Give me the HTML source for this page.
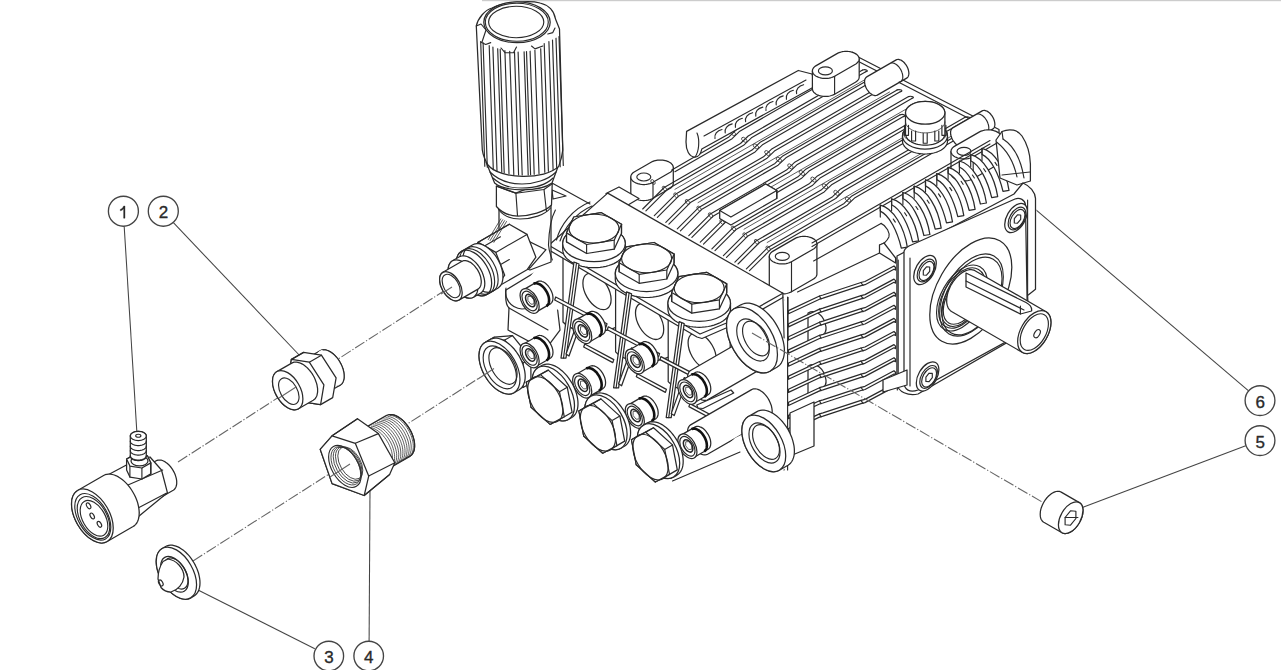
<!DOCTYPE html>
<html><head><meta charset="utf-8"><style>
html,body{margin:0;padding:0;background:#fff;width:1281px;height:670px;overflow:hidden}
svg{display:block}
.c{fill:#fff;stroke:#444;stroke-width:1.35}
.t{font-family:"Liberation Sans",sans-serif;font-size:17px;fill:#2a2a2a;text-anchor:middle;stroke:#2a2a2a;stroke-width:0.35}
.l{stroke:#444;stroke-width:1.05;fill:none}
.d{stroke:#666;stroke-width:1.1;fill:none;stroke-dasharray:11 2 1.2 2}
.s{stroke:#2a2a2a;stroke-width:1.25;fill:#fff;stroke-linejoin:round}
.n{stroke:#2a2a2a;stroke-width:1.15;fill:none;stroke-linejoin:round;stroke-linecap:round}
.h{stroke:#333;stroke-width:0.8;fill:none}
.k{fill:#222;stroke:none}
</style></head><body>
<svg width="1281" height="670" viewBox="0 0 1281 670">
<rect x="482" y="0" width="799" height="1.2" fill="#ccc"/>
<path class="d" d="M178 462 L447 289"/>
<path class="d" d="M193 561 L494 368.5"/>
<path class="l" d="M124.2 226.4 L136.8 431"/>
<path class="l" d="M173.4 222.7 L302 358"/>
<path class="l" d="M314.8 648.7 L198 590"/>
<path class="l" d="M369.1 641.3 L370 490"/>
<path class="l" d="M1245.7 445.7 L1081 508"/>
<path class="l" d="M1248.6 390.8 L1036 209.8"/>
<path class="s" d="M156.2 460.8 L157.1 460.4 L158 460.1 L159.1 460 L160.1 460 L161.2 460.2 L162.4 460.5 L163.5 461 L164.7 461.6 L165.9 462.4 L167.1 463.2 L168.2 464.2 L169.3 465.3 L170.4 466.5 L171.4 467.8 L172.3 469.2 L173.2 470.6 L174 472.1 L174.7 473.6 L175.3 475.1 L175.8 476.6 L176.2 478.1 L176.5 479.6 L176.7 481 L176.7 482.4 L176.7 483.8 L176.5 485 L176.2 486.2 L175.8 487.2 L175.3 488.2 L174.7 489 L174 489.7 L173.2 490.2 L158.5 498.7 L157.6 499.1 L156.7 499.4 L155.7 499.5 L154.6 499.5 L153.5 499.3 L152.3 499 L151.2 498.5 L150 497.9 L148.8 497.1 L147.7 496.3 L146.5 495.3 L145.4 494.2 L144.3 493 L143.3 491.7 L142.4 490.3 L141.5 488.9 L140.7 487.4 L140 485.9 L139.4 484.4 L138.9 482.9 L138.5 481.4 L138.2 479.9 L138 478.5 L138 477.1 L138 475.7 L138.2 474.5 L138.5 473.3 L138.9 472.3 L139.4 471.3 L140 470.5 L140.7 469.8 L141.5 469.3 Z"/><path class="s" d="M104 477 L126.9 464.8 L150 457 L161.5 470 L167.4 492.7 L137.6 517.2 L112 520 Z"/><path class="n" d="M126.8 485.5 L162.7 470"/><path class="n" d="M137.6 508.2 L166.2 493.3"/><path class="n" d="M126.8 485.5 L128 490"/><path class="n" d="M137.6 508.2 L139 513"/><path class="s" d="M141.9 479 L129.9 477.1 L126.6 470.1 L126.6 459.1 L135.5 454 L147.5 455.9 L150.8 462.9 L150.8 473.9 Z"/><path class="n" d="M150.8 462.9 L150.8 473.9"/><path class="n" d="M141.9 468 L141.9 479"/><path class="n" d="M129.9 466.1 L129.9 477.1"/><path class="s" d="M147.5 455.9 L150.8 462.9 L141.9 468 L129.9 466.1 L126.6 459.1 L135.5 454 Z"/><ellipse class="s" cx="139.5" cy="461" rx="8.5" ry="4.9" transform="rotate(-180 139.5 461)"/><path class="s" d="M146.3 456 L146.3 456.5 L146.1 456.9 L146 457.3 L145.7 457.8 L145.4 458.2 L145 458.6 L144.5 458.9 L144 459.3 L143.4 459.6 L142.7 459.8 L142.1 460.1 L141.4 460.3 L140.6 460.4 L139.9 460.5 L139.1 460.6 L138.3 460.6 L137.5 460.6 L136.7 460.5 L136 460.4 L135.2 460.3 L134.5 460.1 L133.9 459.8 L133.2 459.6 L132.6 459.3 L132.1 458.9 L131.6 458.6 L131.2 458.2 L130.9 457.8 L130.6 457.3 L130.5 456.9 L130.3 456.5 L130.3 456 L130.3 436 L130.3 435.5 L130.5 435.1 L130.6 434.7 L130.9 434.2 L131.2 433.8 L131.6 433.4 L132.1 433.1 L132.6 432.7 L133.2 432.4 L133.9 432.2 L134.5 431.9 L135.2 431.7 L136 431.6 L136.7 431.5 L137.5 431.4 L138.3 431.4 L139.1 431.4 L139.9 431.5 L140.6 431.6 L141.4 431.7 L142.1 431.9 L142.7 432.2 L143.4 432.4 L144 432.7 L144.5 433.1 L145 433.4 L145.4 433.8 L145.7 434.2 L146 434.7 L146.1 435.1 L146.3 435.5 L146.3 436 Z"/><ellipse class="s" cx="138.3" cy="436" rx="8" ry="4.6" transform="rotate(-180 138.3 436)"/><path class="n" d="M146.3 441 L146.3 441.5 L146.1 441.9 L146 442.3 L145.7 442.8 L145.4 443.2 L145 443.6 L144.5 443.9 L144 444.3 L143.4 444.6 L142.7 444.8 L142.1 445.1 L141.4 445.3 L140.6 445.4 L139.9 445.5 L139.1 445.6 L138.3 445.6 L137.5 445.6 L136.7 445.5 L136 445.4 L135.2 445.3 L134.5 445.1 L133.9 444.8 L133.2 444.6 L132.6 444.3 L132.1 443.9 L131.6 443.6 L131.2 443.2 L130.9 442.8 L130.6 442.3 L130.5 441.9 L130.3 441.5 L130.3 441"/><path class="n" d="M146.3 446 L146.3 446.5 L146.1 446.9 L146 447.3 L145.7 447.8 L145.4 448.2 L145 448.6 L144.5 448.9 L144 449.3 L143.4 449.6 L142.7 449.8 L142.1 450.1 L141.4 450.3 L140.6 450.4 L139.9 450.5 L139.1 450.6 L138.3 450.6 L137.5 450.6 L136.7 450.5 L136 450.4 L135.2 450.3 L134.5 450.1 L133.9 449.8 L133.2 449.6 L132.6 449.3 L132.1 448.9 L131.6 448.6 L131.2 448.2 L130.9 447.8 L130.6 447.3 L130.5 446.9 L130.3 446.5 L130.3 446"/><path class="n" d="M146.3 450.5 L146.3 451 L146.1 451.4 L146 451.8 L145.7 452.3 L145.4 452.7 L145 453.1 L144.5 453.4 L144 453.8 L143.4 454.1 L142.7 454.3 L142.1 454.6 L141.4 454.8 L140.6 454.9 L139.9 455 L139.1 455.1 L138.3 455.1 L137.5 455.1 L136.7 455 L136 454.9 L135.2 454.8 L134.5 454.6 L133.9 454.3 L133.2 454.1 L132.6 453.8 L132.1 453.4 L131.6 453.1 L131.2 452.7 L130.9 452.3 L130.6 451.8 L130.5 451.4 L130.3 451 L130.3 450.5"/><path class="n" d="M146.3 455.5 L146.3 456 L146.1 456.4 L146 456.8 L145.7 457.3 L145.4 457.7 L145 458.1 L144.5 458.4 L144 458.8 L143.4 459.1 L142.7 459.3 L142.1 459.6 L141.4 459.8 L140.6 459.9 L139.9 460 L139.1 460.1 L138.3 460.1 L137.5 460.1 L136.7 460 L136 459.9 L135.2 459.8 L134.5 459.6 L133.9 459.3 L133.2 459.1 L132.6 458.8 L132.1 458.4 L131.6 458.1 L131.2 457.7 L130.9 457.3 L130.6 456.8 L130.5 456.4 L130.3 456 L130.3 455.5"/><ellipse class="n" cx="138.3" cy="435.7" rx="2.6" ry="1.5" transform="rotate(-180 138.3 435.7)"/><path class="s" d="M103.6 475.5 L105.1 474.7 L106.8 474.3 L108.5 474.1 L110.4 474.1 L112.3 474.5 L114.3 475 L116.3 475.8 L118.4 476.9 L120.4 478.2 L122.5 479.7 L124.4 481.4 L126.4 483.4 L128.2 485.4 L130 487.7 L131.6 490 L133.1 492.5 L134.5 495 L135.7 497.6 L136.8 500.3 L137.7 502.9 L138.3 505.5 L138.8 508.1 L139.1 510.6 L139.2 513 L139.1 515.3 L138.8 517.5 L138.3 519.5 L137.7 521.3 L136.8 523 L135.7 524.4 L134.5 525.6 L133.1 526.5 L107.2 541.5 L105.6 542.3 L104 542.7 L102.2 542.9 L100.4 542.9 L98.5 542.5 L96.5 542 L94.4 541.2 L92.4 540.1 L90.4 538.8 L88.3 537.3 L86.3 535.6 L84.4 533.6 L82.6 531.6 L80.8 529.3 L79.2 527 L77.6 524.5 L76.3 522 L75.1 519.4 L74 516.7 L73.1 514.1 L72.4 511.5 L71.9 508.9 L71.6 506.4 L71.5 504 L71.6 501.7 L71.9 499.5 L72.4 497.5 L73.1 495.7 L74 494 L75.1 492.6 L76.3 491.4 L77.6 490.5 Z"/><ellipse class="s" cx="92.4" cy="516" rx="29.5" ry="17" transform="rotate(-120 92.4 516)"/><ellipse class="n" cx="92.8" cy="516.8" rx="25.5" ry="14.7" transform="rotate(-120 92.8 516.8)"/><ellipse class="n" cx="93.5" cy="517.6" rx="23" ry="13.3" transform="rotate(-120 93.5 517.6)"/><ellipse class="n" cx="94" cy="518.3" rx="19.5" ry="11.3" transform="rotate(-120 94 518.3)"/><ellipse class="n" cx="88.6" cy="505.8" rx="3.2" ry="1.8" transform="rotate(-120 88.6 505.8)"/><ellipse class="n" cx="92.2" cy="516" rx="3.2" ry="1.8" transform="rotate(-120 92.2 516)"/><ellipse class="n" cx="99.4" cy="524.3" rx="3.2" ry="1.8" transform="rotate(-120 99.4 524.3)"/><path class="s" d="M307.9 357.7 L306.9 358.3 L306.1 359.1 L305.4 360.1 L304.8 361.2 L304.3 362.4 L304 363.8 L303.8 365.3 L303.7 366.8 L303.8 368.5 L304 370.2 L304.3 371.9 L304.8 373.7 L305.4 375.5 L306.1 377.3 L306.9 379 L307.9 380.8 L308.9 382.4 L310 384 L311.2 385.6 L312.5 387 L313.8 388.3 L315.1 389.4 L316.5 390.5 L317.9 391.3 L319.3 392.1 L320.6 392.6 L322 393 L323.3 393.2 L324.5 393.3 L325.7 393.1 L326.8 392.8 L327.9 392.3 L340 385.3 L341 384.6 L341.8 383.8 L342.5 382.8 L343.1 381.6 L343.6 380.3 L343.9 378.9 L344.1 377.4 L344.1 375.7 L344 374 L343.8 372.3 L343.4 370.4 L342.9 368.6 L342.2 366.8 L341.4 364.9 L340.5 363.1 L339.5 361.4 L338.4 359.7 L337.2 358.1 L335.9 356.6 L334.6 355.2 L333.2 353.9 L331.8 352.8 L330.4 351.9 L328.9 351.1 L327.5 350.5 L326.1 350.1 L324.8 349.8 L323.5 349.7 L322.2 349.9 L321.1 350.2 L320 350.7 Z"/><ellipse class="s" style="stroke:none" cx="330" cy="368" rx="20" ry="11.5" transform="rotate(-120 330 368)"/><path class="n" d="M337.1 386.2 L338.2 386 L339.3 385.7 L340.3 385.1 L341.2 384.4 L342 383.6 L342.7 382.5 L343.2 381.4 L343.7 380.1 L344 378.7 L344.1 377.2 L344.1 375.6 L344 374 L343.8 372.2 L343.4 370.5 L342.9 368.7 L342.2 366.9 L341.5 365.1 L340.6 363.4 L339.7 361.7 L338.6 360 L337.5 358.4 L336.3 357 L335 355.6 L333.7 354.3 L332.3 353.2 L330.9 352.2 L329.5 351.4 L328.2 350.7 L326.8 350.2 L325.5 349.9 L324.2 349.8 L322.9 349.8"/><path class="s" d="M302.7 401.8 L288.1 379.2 L291.4 359.4 L303.5 352.4 L321.4 355.2 L336.1 377.8 L332.7 397.6 L320.6 404.6 Z"/><path class="n" d="M309.3 362.2 L321.4 355.2"/><path class="n" d="M291.4 359.4 L303.5 352.4"/><path class="n" d="M288.1 379.2 L300.2 372.2"/><path class="s" d="M323.9 384.8 L309.3 362.2 L291.4 359.4 L288.1 379.2 L302.7 401.8 L320.6 404.6 Z"/><path class="s" d="M291.7 363.1 L292.8 362.6 L294 362.2 L295.3 362.1 L296.6 362.1 L298 362.4 L299.5 362.8 L300.9 363.4 L302.4 364.1 L303.9 365.1 L305.4 366.2 L306.8 367.4 L308.2 368.8 L309.6 370.4 L310.9 372 L312.1 373.7 L313.2 375.5 L314.2 377.3 L315.1 379.2 L315.8 381.2 L316.5 383.1 L317 385 L317.3 386.9 L317.6 388.7 L317.6 390.5 L317.6 392.2 L317.3 393.7 L317 395.2 L316.5 396.5 L315.8 397.7 L315.1 398.8 L314.2 399.6 L313.2 400.3 L298.5 408.8 L297.3 409.3 L296.1 409.7 L294.9 409.8 L293.5 409.8 L292.1 409.5 L290.7 409.1 L289.2 408.5 L287.7 407.8 L286.2 406.8 L284.7 405.7 L283.3 404.5 L281.9 403.1 L280.5 401.5 L279.3 399.9 L278.1 398.2 L276.9 396.4 L275.9 394.6 L275.1 392.7 L274.3 390.7 L273.7 388.8 L273.2 386.9 L272.8 385 L272.6 383.2 L272.5 381.4 L272.6 379.7 L272.8 378.2 L273.2 376.7 L273.7 375.4 L274.3 374.2 L275.1 373.1 L275.9 372.3 L276.9 371.6 Z"/><ellipse class="s" cx="287.7" cy="390.2" rx="21.5" ry="12.4" transform="rotate(-120 287.7 390.2)"/><ellipse class="n" cx="288.8" cy="391.2" rx="14.5" ry="8.4" transform="rotate(-120 288.8 391.2)"/><path class="s" d="M165.6 546.5 L167.1 545.8 L168.7 545.4 L170.4 545.2 L172.2 545.2 L174 545.6 L175.9 546.1 L177.9 546.9 L179.9 547.9 L181.8 549.2 L183.8 550.6 L185.7 552.3 L187.6 554.2 L189.4 556.2 L191.1 558.3 L192.6 560.6 L194.1 563 L195.4 565.4 L196.6 567.9 L197.6 570.5 L198.5 573 L199.1 575.6 L199.6 578.1 L199.9 580.5 L200 582.8 L199.9 585.1 L199.6 587.2 L199.1 589.1 L198.5 590.9 L197.6 592.4 L196.6 593.8 L195.4 595 L194.1 595.9 L190.7 597.9 L189.2 598.6 L187.6 599 L185.9 599.2 L184.1 599.2 L182.2 598.8 L180.3 598.3 L178.4 597.5 L176.4 596.5 L174.4 595.2 L172.5 593.8 L170.6 592.1 L168.7 590.2 L166.9 588.2 L165.2 586.1 L163.6 583.8 L162.1 581.4 L160.8 579 L159.6 576.5 L158.6 573.9 L157.8 571.4 L157.1 568.8 L156.6 566.3 L156.3 563.9 L156.2 561.6 L156.3 559.3 L156.6 557.2 L157.1 555.3 L157.8 553.5 L158.6 552 L159.6 550.6 L160.8 549.4 L162.1 548.5 Z"/><ellipse class="s" cx="176.4" cy="573.2" rx="28.5" ry="16.5" transform="rotate(-120 176.4 573.2)"/><ellipse class="s" cx="174.5" cy="574.3" rx="19.5" ry="11.3" transform="rotate(-120 174.5 574.3)"/><ellipse class="n" cx="176" cy="573.5" rx="17" ry="9.8" transform="rotate(-120 176 573.5)"/><path class="s" d="M163 561.5 C160 566 158 573 158 579 L161 587.5 C163 590 167 592 171 592 C178 590 183 584 184 577 C184 568 176 560 168 559 Z"/><ellipse class="n" cx="160.8" cy="583" rx="3.3" ry="1.9" transform="rotate(-120 160.8 583)"/><path class="s" d="M362 429.6 L360.9 430.4 L359.9 431.4 L359.1 432.5 L358.4 433.8 L357.8 435.2 L357.5 436.8 L357.2 438.6 L357.1 440.4 L357.2 442.3 L357.5 444.3 L357.8 446.4 L358.4 448.5 L359.1 450.6 L359.9 452.7 L360.9 454.8 L362 456.8 L363.2 458.7 L364.5 460.6 L365.9 462.4 L367.4 464.1 L368.9 465.6 L370.5 466.9 L372.1 468.2 L373.8 469.2 L375.4 470 L377 470.7 L378.6 471.1 L380.1 471.4 L381.6 471.4 L383 471.3 L384.3 470.9 L385.5 470.4 L409.8 456.4 L410.9 455.6 L411.9 454.6 L412.7 453.4 L413.4 452 L414 450.5 L414.4 448.8 L414.6 447 L414.6 445.1 L414.5 443.1 L414.2 441 L413.7 438.9 L413.1 436.7 L412.3 434.5 L411.4 432.4 L410.3 430.3 L409.1 428.2 L407.8 426.2 L406.4 424.3 L404.9 422.6 L403.4 420.9 L401.8 419.5 L400.1 418.2 L398.4 417.1 L396.7 416.1 L395.1 415.4 L393.4 414.9 L391.8 414.6 L390.3 414.6 L388.9 414.7 L387.5 415.1 L386.2 415.6 Z"/><path class="n" d="M406.3 457.4 L407.7 457.2 L409 456.8 L410.1 456.1 L411.2 455.3 L412.1 454.3 L412.9 453.1 L413.6 451.7 L414.1 450.2 L414.4 448.6 L414.6 446.8 L414.6 445 L414.5 443 L414.2 441 L413.7 438.9 L413.1 436.8 L412.4 434.7 L411.5 432.6 L410.5 430.6 L409.4 428.6 L408.1 426.6 L406.8 424.8 L405.3 423 L403.9 421.4 L402.3 419.9 L400.7 418.6 L399.1 417.5 L397.5 416.5 L395.8 415.7 L394.2 415.1 L392.7 414.7 L391.1 414.6 L389.7 414.6"/><path class="h" d="M406.2 458 L407.5 457.6 L408.7 456.9 L409.8 456.1 L410.7 455.1 L411.6 453.9 L412.2 452.6 L412.7 451.1 L413.1 449.4 L413.3 447.7 L413.3 445.8 L413.2 443.8 L412.9 441.8 L412.4 439.7 L411.8 437.6 L411.1 435.5 L410.2 433.4 L409.2 431.3 L408 429.3 L406.8 427.3 L405.4 425.5 L404 423.7 L402.5 422.1 L400.9 420.6 L399.3 419.3 L397.7 418.2 L396 417.2 L394.4 416.4 L392.8 415.8 L391.2 415.5 L389.7 415.3"/><path class="h" d="M404.2 459.2 L405.5 458.8 L406.6 458.1 L407.7 457.3 L408.7 456.3 L409.5 455.1 L410.1 453.8 L410.6 452.3 L411 450.6 L411.2 448.9 L411.2 447 L411.1 445 L410.8 443 L410.4 440.9 L409.8 438.8 L409 436.7 L408.1 434.6 L407.1 432.5 L406 430.5 L404.7 428.5 L403.3 426.7 L401.9 424.9 L400.4 423.3 L398.8 421.8 L397.2 420.5 L395.6 419.4 L393.9 418.4 L392.3 417.6 L390.7 417 L389.1 416.7 L387.6 416.5"/><path class="h" d="M402.1 460.4 L403.4 460 L404.6 459.3 L405.6 458.5 L406.6 457.5 L407.4 456.3 L408.1 455 L408.6 453.5 L408.9 451.8 L409.1 450.1 L409.2 448.2 L409 446.2 L408.7 444.2 L408.3 442.1 L407.7 440 L406.9 437.9 L406 435.8 L405 433.7 L403.9 431.7 L402.6 429.7 L401.3 427.9 L399.8 426.1 L398.3 424.5 L396.8 423 L395.1 421.7 L393.5 420.6 L391.9 419.6 L390.2 418.8 L388.6 418.2 L387 417.9 L385.5 417.7"/><path class="h" d="M400 461.6 L401.3 461.2 L402.5 460.5 L403.6 459.7 L404.5 458.7 L405.3 457.5 L406 456.2 L406.5 454.7 L406.8 453 L407 451.3 L407.1 449.4 L406.9 447.4 L406.7 445.4 L406.2 443.3 L405.6 441.2 L404.9 439.1 L404 437 L402.9 434.9 L401.8 432.9 L400.5 430.9 L399.2 429.1 L397.8 427.3 L396.2 425.7 L394.7 424.2 L393.1 422.9 L391.4 421.8 L389.8 420.8 L388.2 420 L386.5 419.4 L385 419.1 L383.4 418.9"/><path class="h" d="M397.9 462.8 L399.2 462.4 L400.4 461.7 L401.5 460.9 L402.4 459.9 L403.2 458.7 L403.9 457.4 L404.4 455.9 L404.8 454.2 L405 452.5 L405 450.6 L404.9 448.6 L404.6 446.6 L404.1 444.5 L403.5 442.4 L402.8 440.3 L401.9 438.2 L400.9 436.1 L399.7 434.1 L398.5 432.1 L397.1 430.3 L395.7 428.5 L394.2 426.9 L392.6 425.4 L391 424.1 L389.4 423 L387.7 422 L386.1 421.2 L384.5 420.6 L382.9 420.3 L381.4 420.1"/><path class="h" d="M395.8 464 L397.1 463.6 L398.3 462.9 L399.4 462.1 L400.3 461.1 L401.2 459.9 L401.8 458.6 L402.3 457.1 L402.7 455.4 L402.9 453.7 L402.9 451.8 L402.8 449.8 L402.5 447.8 L402.1 445.7 L401.4 443.6 L400.7 441.5 L399.8 439.4 L398.8 437.3 L397.6 435.3 L396.4 433.3 L395 431.5 L393.6 429.7 L392.1 428.1 L390.5 426.6 L388.9 425.3 L387.3 424.2 L385.6 423.2 L384 422.4 L382.4 421.8 L380.8 421.5 L379.3 421.3"/><path class="h" d="M393.8 465.2 L395.1 464.8 L396.3 464.1 L397.3 463.3 L398.3 462.3 L399.1 461.1 L399.7 459.8 L400.3 458.3 L400.6 456.6 L400.8 454.9 L400.8 453 L400.7 451 L400.4 449 L400 446.9 L399.4 444.8 L398.6 442.7 L397.7 440.6 L396.7 438.5 L395.6 436.5 L394.3 434.5 L393 432.7 L391.5 430.9 L390 429.3 L388.4 427.8 L386.8 426.5 L385.2 425.4 L383.6 424.4 L381.9 423.6 L380.3 423 L378.7 422.7 L377.2 422.5"/><path class="h" d="M391.7 466.4 L393 466 L394.2 465.3 L395.2 464.5 L396.2 463.5 L397 462.3 L397.7 461 L398.2 459.5 L398.5 457.8 L398.7 456.1 L398.8 454.2 L398.6 452.2 L398.3 450.2 L397.9 448.1 L397.3 446 L396.5 443.9 L395.7 441.8 L394.6 439.7 L393.5 437.7 L392.2 435.7 L390.9 433.9 L389.4 432.1 L387.9 430.5 L386.4 429 L384.8 427.7 L383.1 426.6 L381.5 425.6 L379.8 424.8 L378.2 424.2 L376.7 423.9 L375.1 423.7"/><path class="h" d="M389.6 467.6 L390.9 467.2 L392.1 466.5 L393.2 465.7 L394.1 464.7 L394.9 463.5 L395.6 462.2 L396.1 460.7 L396.5 459 L396.6 457.3 L396.7 455.4 L396.6 453.4 L396.3 451.4 L395.8 449.3 L395.2 447.2 L394.5 445.1 L393.6 443 L392.6 440.9 L391.4 438.9 L390.2 436.9 L388.8 435.1 L387.4 433.3 L385.8 431.7 L384.3 430.2 L382.7 428.9 L381 427.8 L379.4 426.8 L377.8 426 L376.1 425.4 L374.6 425.1 L373.1 424.9"/><path class="h" d="M387.5 468.8 L388.8 468.4 L390 467.7 L391.1 466.9 L392 465.9 L392.8 464.7 L393.5 463.4 L394 461.9 L394.4 460.2 L394.6 458.5 L394.6 456.6 L394.5 454.6 L394.2 452.6 L393.7 450.5 L393.1 448.4 L392.4 446.3 L391.5 444.2 L390.5 442.1 L389.3 440.1 L388.1 438.1 L386.7 436.3 L385.3 434.5 L383.8 432.9 L382.2 431.4 L380.6 430.1 L379 429 L377.3 428 L375.7 427.2 L374.1 426.6 L372.5 426.3 L371 426.1"/><path class="h" d="M385.4 470 L386.7 469.6 L387.9 468.9 L389 468.1 L390 467.1 L390.8 465.9 L391.4 464.6 L391.9 463.1 L392.3 461.4 L392.5 459.7 L392.5 457.8 L392.4 455.8 L392.1 453.8 L391.7 451.7 L391.1 449.6 L390.3 447.5 L389.4 445.4 L388.4 443.3 L387.2 441.3 L386 439.3 L384.6 437.5 L383.2 435.7 L381.7 434.1 L380.1 432.6 L378.5 431.3 L376.9 430.2 L375.2 429.2 L373.6 428.4 L372 427.8 L370.4 427.5 L368.9 427.3"/><path class="s" d="M320.2 449.3 L332.1 435.8 L357.5 418.7 L378.4 433.6 L394.8 462.7 L389.6 474.6 L364.2 495.5 L332.1 483.6 Z"/><path class="n" d="M332.1 435.8 L357.5 418.7"/><path class="n" d="M355.3 443.3 L378.4 433.6"/><path class="n" d="M368.7 476.1 L394.8 462.7"/><path class="n" d="M364.2 495.5 L389.6 474.6"/><path class="s" d="M320.2 449.3 L332.1 435.8 L355.3 443.3 L368.7 476.1 L364.2 495.5 L332.1 483.6 Z"/><ellipse class="n" cx="344.9" cy="466.4" rx="23" ry="13.3" transform="rotate(-120 344.9 466.4)"/><ellipse class="h" cx="345.8" cy="465.8" rx="21" ry="12.1" transform="rotate(-120 345.8 465.8)"/><ellipse class="h" cx="347.3" cy="464.9" rx="19.9" ry="11.5" transform="rotate(-120 347.3 464.9)"/><ellipse class="h" cx="348.8" cy="464" rx="18.8" ry="10.9" transform="rotate(-120 348.8 464)"/><ellipse class="h" cx="350.3" cy="463.1" rx="17.7" ry="10.2" transform="rotate(-120 350.3 463.1)"/><path class="s" d="M1043.8 522.3 L1043 521.7 L1042.3 521 L1041.7 520.2 L1041.1 519.2 L1040.7 518.1 L1040.4 516.9 L1040.3 515.7 L1040.2 514.3 L1040.3 512.9 L1040.4 511.4 L1040.7 509.9 L1041.1 508.3 L1041.7 506.8 L1042.3 505.2 L1043 503.7 L1043.8 502.2 L1044.7 500.7 L1045.7 499.3 L1046.7 498 L1047.8 496.8 L1048.9 495.7 L1050.1 494.7 L1051.3 493.8 L1052.5 493 L1053.7 492.4 L1054.9 491.9 L1056.1 491.5 L1057.2 491.4 L1058.3 491.3 L1059.3 491.4 L1060.3 491.7 L1061.2 492.1 L1079.4 502.6 L1080.2 503.2 L1081 504 L1081.6 504.8 L1082.1 505.8 L1082.5 507 L1082.8 508.2 L1083 509.5 L1083 511 L1082.9 512.4 L1082.7 514 L1082.3 515.6 L1081.9 517.2 L1081.3 518.8 L1080.6 520.4 L1079.8 522 L1078.9 523.5 L1078 524.9 L1076.9 526.3 L1075.8 527.6 L1074.7 528.8 L1073.5 529.9 L1072.3 530.9 L1071 531.7 L1069.8 532.4 L1068.5 532.9 L1067.3 533.3 L1066.1 533.5 L1065 533.6 L1063.9 533.5 L1062.9 533.2 L1062 532.8 Z"/><ellipse class="s" cx="1070.7" cy="517.7" rx="17.4" ry="10" transform="rotate(120 1070.7 517.7)"/><path class="n" d="M1070.5 510.8 L1065.1 517.5 L1065.1 524.7 L1070.5 525.2 L1075.9 518.5 L1075.9 511.3 Z"/><path class="n" d="M1065.1 517.5 L1077.9 517.5"/><path class="s" style="stroke:none" d="M620 190 L631 160 L690 125 L835 46 L870 55 L982 118 L1035 150 L1040 385 L905 390 L790 425 L786 300 Z"/><path class="s" d="M852 52 L855.8 55.7 L999 129.5 L999 134 L858 61.3 L852 58 Z"/><path class="s" d="M630.8 177.1 L630.8 193.1 L631 194.2 L631.4 195.3 L632.1 196.3 L633.1 197.2 L634.2 198.1 L635.6 198.8 L637.2 199.5 L638.9 200 L640.7 200.3 L642.6 200.5 L644.5 200.5 L646.4 200.4 L648.2 200.1 L649.9 199.6 L651.6 199 L653 198.3 L669.4 188.8 L669.9 188.5 L670.3 188.3 L670.7 188 L671.1 187.7 L671.4 187.3 L671.7 187 L672 186.7 L672.3 186.3 L672.5 186 L672.7 185.6 L672.9 185.3 L673 184.9 L673.1 184.5 L673.2 184.2 L673.2 183.8 L673.3 183.4 L673.3 167.4 Z"/><path class="s" d="M653 182.3 L652 182.8 L651 183.2 L649.9 183.6 L648.8 183.9 L647.6 184.2 L646.3 184.4 L645.1 184.5 L643.8 184.5 L642.5 184.5 L641.3 184.4 L640 184.2 L638.8 183.9 L637.7 183.6 L636.6 183.2 L635.6 182.8 L634.6 182.3 L633.8 181.8 L633 181.2 L632.3 180.5 L631.8 179.9 L631.4 179.2 L631 178.5 L630.9 177.7 L630.8 177 L630.9 176.3 L631 175.5 L631.4 174.8 L631.8 174.1 L632.3 173.5 L633 172.8 L633.8 172.2 L634.6 171.7 L651.1 162.2 L652 161.7 L653 161.3 L654.1 160.9 L655.3 160.6 L656.5 160.3 L657.7 160.1 L659 160 L660.3 160 L661.5 160 L662.8 160.1 L664 160.3 L665.2 160.6 L666.4 160.9 L667.5 161.3 L668.5 161.7 L669.4 162.2 L670.3 162.7 L671.1 163.3 L671.7 164 L672.3 164.6 L672.7 165.3 L673 166 L673.2 166.8 L673.3 167.5 L673.2 168.2 L673 169 L672.7 169.7 L672.3 170.4 L671.7 171 L671.1 171.7 L670.3 172.3 L669.4 172.8 Z"/><path class="n" d="M653 182.3 L653 198.3"/><ellipse class="n" cx="643.8" cy="177" rx="7" ry="4" transform="rotate(-180 643.8 177)"/><path class="n" d="M851 63.4 L736.7 129.4 L728.9 136.9 L671.8 169.9"/><path class="n" d="M854.2 65.2 L739.8 131.2 L732.1 138.7 L674.9 171.7"/><ellipse class="h" cx="732.8" cy="133.1" rx="1.8" ry="3.2" transform="rotate(-50 732.8 133.1)"/><ellipse class="h" cx="653" cy="182" rx="1.6" ry="2.8" transform="rotate(-40 653 182)"/><path class="n" d="M851 63.4 C854 62.4 858.2 64.2 854.2 65.2"/><path class="n" d="M862.6 70 L748.2 136 L740.5 143.5 L664.2 187.5 L642.7 209"/><path class="n" d="M865.7 71.8 L751.4 137.8 L743.6 145.3 L667.4 189.3 L645.9 210.8"/><ellipse class="h" cx="744.3" cy="139.8" rx="1.8" ry="3.2" transform="rotate(-50 744.3 139.8)"/><ellipse class="h" cx="664.5" cy="188.6" rx="1.6" ry="2.8" transform="rotate(-40 664.5 188.6)"/><path class="n" d="M862.6 70 C865.6 69 869.7 70.8 865.7 71.8"/><path class="h" d="M866.9 78.5 L674.6 189.5"/><path class="n" d="M874.1 76.6 L759.8 142.6 L752 150.1 L675.8 194.1 L654.3 215.6"/><path class="n" d="M877.2 78.4 L762.9 144.4 L755.1 151.9 L678.9 195.9 L657.4 217.4"/><ellipse class="h" cx="755.9" cy="146.4" rx="1.8" ry="3.2" transform="rotate(-50 755.9 146.4)"/><ellipse class="h" cx="676" cy="195.3" rx="1.6" ry="2.8" transform="rotate(-40 676 195.3)"/><path class="n" d="M874.1 76.6 C877.1 75.6 881.2 77.4 877.2 78.4"/><path class="n" d="M885.6 83.3 L771.3 149.3 L763.5 156.8 L687.3 200.8 L665.8 222.3"/><path class="n" d="M888.7 85.1 L774.4 151.1 L766.6 158.6 L690.4 202.6 L668.9 224.1"/><ellipse class="h" cx="767.4" cy="153.1" rx="1.8" ry="3.2" transform="rotate(-50 767.4 153.1)"/><ellipse class="h" cx="687.5" cy="201.9" rx="1.6" ry="2.8" transform="rotate(-40 687.5 201.9)"/><path class="n" d="M885.6 83.3 C888.6 82.3 892.7 84.1 888.7 85.1"/><path class="h" d="M889.9 91.8 L697.7 202.8"/><path class="n" d="M897.1 89.9 L782.8 155.9 L775 163.4 L698.8 207.4 L677.3 228.9"/><path class="n" d="M900.2 91.8 L785.9 157.8 L778.1 165.2 L701.9 209.2 L680.4 230.8"/><ellipse class="h" cx="778.9" cy="159.7" rx="1.8" ry="3.2" transform="rotate(-50 778.9 159.7)"/><ellipse class="h" cx="699.1" cy="208.6" rx="1.6" ry="2.8" transform="rotate(-40 699.1 208.6)"/><path class="n" d="M897.1 89.9 C900.1 88.9 904.2 90.8 900.2 91.8"/><path class="n" d="M908.6 96.6 L794.3 162.6 L786.5 170.1 L710.3 214.1 L688.8 235.6"/><path class="n" d="M911.8 98.4 L797.4 164.4 L789.6 171.9 L713.4 215.9 L691.9 237.4"/><ellipse class="h" cx="790.4" cy="166.4" rx="1.8" ry="3.2" transform="rotate(-50 790.4 166.4)"/><ellipse class="h" cx="710.6" cy="215.2" rx="1.6" ry="2.8" transform="rotate(-40 710.6 215.2)"/><path class="n" d="M908.6 96.6 C911.6 95.6 915.8 97.4 911.8 98.4"/><path class="h" d="M913 105.1 L720.7 216.1"/><path class="n" d="M900.2 114.8 L805.8 169.2 L798 176.8 L721.8 220.8 L700.3 242.2"/><path class="n" d="M903.4 116.6 L809 171.1 L801.2 178.6 L725 222.6 L703.5 244.1"/><ellipse class="h" cx="801.9" cy="173" rx="1.8" ry="3.2" transform="rotate(-50 801.9 173)"/><ellipse class="h" cx="722.1" cy="221.9" rx="1.6" ry="2.8" transform="rotate(-40 722.1 221.9)"/><path class="n" d="M900.2 114.8 C903.2 113.8 907.4 115.6 903.4 116.6"/><path class="n" d="M911.8 121.4 L817.4 175.9 L809.6 183.4 L733.4 227.4 L711.9 248.9"/><path class="n" d="M914.9 123.2 L820.5 177.7 L812.7 185.2 L736.5 229.2 L715 250.7"/><ellipse class="h" cx="813.5" cy="179.6" rx="1.8" ry="3.2" transform="rotate(-50 813.5 179.6)"/><ellipse class="h" cx="733.6" cy="228.5" rx="1.6" ry="2.8" transform="rotate(-40 733.6 228.5)"/><path class="n" d="M911.8 121.4 C914.8 120.4 918.9 122.2 914.9 123.2"/><path class="h" d="M916.1 129.9 L743.7 229.4"/><path class="n" d="M923.3 128.1 L828.9 182.6 L821.1 190.1 L744.9 234.1 L723.4 255.6"/><path class="n" d="M926.4 129.9 L832 184.4 L824.2 191.9 L748 235.9 L726.5 257.4"/><ellipse class="h" cx="825" cy="186.3" rx="1.8" ry="3.2" transform="rotate(-50 825 186.3)"/><ellipse class="h" cx="745.1" cy="235.2" rx="1.6" ry="2.8" transform="rotate(-40 745.1 235.2)"/><path class="n" d="M923.3 128.1 C926.3 127.1 930.4 128.9 926.4 129.9"/><path class="n" d="M965.1 117.2 L840.4 189.2 L832.6 196.7 L756.4 240.7 L734.9 262.2"/><path class="n" d="M968.2 119 L843.5 191 L835.7 198.5 L759.5 242.5 L738 264"/><ellipse class="h" cx="836.5" cy="192.9" rx="1.8" ry="3.2" transform="rotate(-50 836.5 192.9)"/><ellipse class="h" cx="756.6" cy="241.8" rx="1.6" ry="2.8" transform="rotate(-40 756.6 241.8)"/><path class="n" d="M965.1 117.2 C968.1 116.2 972.2 118 968.2 119"/><path class="h" d="M969.4 125.7 L766.8 242.7"/><path class="n" d="M976.6 123.9 L851.9 195.9 L844.1 203.4 L767.9 247.4 L746.4 268.9"/><path class="n" d="M979.7 125.7 L855 197.7 L847.2 205.2 L771 249.2 L749.5 270.7"/><ellipse class="h" cx="848" cy="199.6" rx="1.8" ry="3.2" transform="rotate(-50 848 199.6)"/><ellipse class="h" cx="768.2" cy="248.5" rx="1.6" ry="2.8" transform="rotate(-40 768.2 248.5)"/><path class="n" d="M976.6 123.9 C979.6 122.9 983.7 124.7 979.7 125.7"/><path class="s" d="M719.7 218.5 L719.7 210.5 L765.6 184 L776.8 190.5 L776.8 198.5 L730.9 225 Z"/><path class="s" d="M719.7 210.5 L765.6 184 L776.8 190.5 L730.9 217 Z"/><path class="n" d="M776.8 190.5 L776.8 198.5"/><path class="s" d="M686.6 131.4 L798.3 70.5 L812 74 L816 85.7 L701.8 149 C701 153 699 157 695 157 C689 157 686 150 686 142 Z"/><path class="n" d="M695 157 C699 152 700 140 697 133"/><path class="n" d="M704 136 L806 80"/><path class="n" d="M715 138.5 c-1 -4 2 -8 7 -9"/><path class="n" d="M725.2 132.9 c-1 -4 2 -8 7 -9"/><path class="n" d="M735.4 127.3 c-1 -4 2 -8 7 -9"/><path class="n" d="M745.6 121.7 c-1 -4 2 -8 7 -9"/><path class="n" d="M755.8 116.1 c-1 -4 2 -8 7 -9"/><path class="n" d="M766 110.5 c-1 -4 2 -8 7 -9"/><path class="n" d="M776.2 104.9 c-1 -4 2 -8 7 -9"/><path class="n" d="M786.4 99.3 c-1 -4 2 -8 7 -9"/><path class="n" d="M796.6 93.7 c-1 -4 2 -8 7 -9"/><path class="s" d="M896.2 59.9 L896.7 59.7 L897.3 59.5 L897.9 59.4 L898.6 59.4 L899.3 59.6 L900 59.8 L900.7 60 L901.4 60.4 L902.2 60.9 L902.9 61.4 L903.6 62 L904.3 62.7 L904.9 63.5 L905.6 64.3 L906.2 65.1 L906.7 66 L907.2 66.9 L907.6 67.8 L908 68.7 L908.3 69.7 L908.5 70.6 L908.7 71.5 L908.8 72.4 L908.9 73.3 L908.8 74.1 L908.7 74.9 L908.5 75.6 L908.3 76.2 L908 76.8 L907.6 77.3 L907.2 77.8 L906.7 78.1 L877.3 95.1 L876.7 95.3 L876.1 95.5 L875.5 95.6 L874.8 95.6 L874.2 95.4 L873.4 95.2 L872.7 95 L872 94.6 L871.3 94.1 L870.6 93.6 L869.8 93 L869.2 92.3 L868.5 91.5 L867.9 90.7 L867.3 89.9 L866.7 89 L866.3 88.1 L865.8 87.2 L865.5 86.3 L865.1 85.3 L864.9 84.4 L864.7 83.5 L864.6 82.6 L864.6 81.7 L864.6 80.9 L864.7 80.1 L864.9 79.4 L865.1 78.8 L865.5 78.2 L865.8 77.7 L866.3 77.2 L866.7 76.9 Z"/><path class="n" d="M899.1 82.1 L899.7 82 L900.3 81.8 L900.8 81.5 L901.3 81.1 L901.7 80.7 L902 80.1 L902.3 79.5 L902.6 78.9 L902.7 78.1 L902.8 77.3 L902.8 76.5 L902.7 75.6 L902.6 74.7 L902.4 73.8 L902.1 72.9 L901.8 71.9 L901.4 71 L901 70.1 L900.5 69.2 L899.9 68.3 L899.3 67.5 L898.7 66.7 L898 66 L897.3 65.3 L896.6 64.7 L895.9 64.2 L895.1 63.8 L894.4 63.4 L893.7 63.2 L893 63 L892.3 62.9 L891.7 62.9"/><path class="s" d="M982.2 110.9 L982.7 110.7 L983.3 110.5 L983.9 110.4 L984.6 110.4 L985.3 110.6 L986 110.8 L986.7 111 L987.4 111.4 L988.2 111.9 L988.9 112.4 L989.6 113 L990.3 113.7 L990.9 114.5 L991.6 115.3 L992.2 116.1 L992.7 117 L993.2 117.9 L993.6 118.8 L994 119.7 L994.3 120.7 L994.5 121.6 L994.7 122.5 L994.8 123.4 L994.9 124.3 L994.8 125.1 L994.7 125.9 L994.5 126.6 L994.3 127.2 L994 127.8 L993.6 128.3 L993.2 128.8 L992.7 129.1 L963.3 146.1 L962.7 146.3 L962.1 146.5 L961.5 146.6 L960.8 146.6 L960.2 146.4 L959.4 146.2 L958.7 146 L958 145.6 L957.3 145.1 L956.6 144.6 L955.8 144 L955.2 143.3 L954.5 142.5 L953.9 141.7 L953.3 140.9 L952.7 140 L952.3 139.1 L951.8 138.2 L951.5 137.3 L951.1 136.3 L950.9 135.4 L950.7 134.5 L950.6 133.6 L950.6 132.7 L950.6 131.9 L950.7 131.1 L950.9 130.4 L951.1 129.8 L951.5 129.2 L951.8 128.7 L952.3 128.2 L952.7 127.9 Z"/><path class="n" d="M985.1 133.1 L985.7 133 L986.3 132.8 L986.8 132.5 L987.3 132.1 L987.7 131.7 L988 131.1 L988.3 130.5 L988.6 129.9 L988.7 129.1 L988.8 128.3 L988.8 127.5 L988.7 126.6 L988.6 125.7 L988.4 124.8 L988.1 123.9 L987.8 122.9 L987.4 122 L987 121.1 L986.5 120.2 L985.9 119.3 L985.3 118.5 L984.7 117.7 L984 117 L983.3 116.3 L982.6 115.7 L981.9 115.2 L981.1 114.8 L980.4 114.4 L979.7 114.2 L979 114 L978.3 113.9 L977.7 113.9"/><path class="s" d="M812.4 71 L812.4 89 L812.6 90.1 L813 91.2 L813.7 92.2 L814.7 93.1 L815.8 94 L817.2 94.7 L818.8 95.4 L820.5 95.9 L822.3 96.2 L824.2 96.4 L826.1 96.4 L828 96.3 L829.8 96 L831.5 95.5 L833.2 94.9 L834.6 94.2 L855.4 82.2 L855.8 81.9 L856.2 81.7 L856.6 81.4 L857 81.1 L857.4 80.7 L857.7 80.4 L858 80.1 L858.2 79.7 L858.5 79.4 L858.7 79 L858.8 78.7 L859 78.3 L859.1 77.9 L859.1 77.6 L859.2 77.2 L859.2 76.8 L859.2 58.8 Z"/><path class="s" d="M834.6 76.2 L833.6 76.7 L832.6 77.1 L831.5 77.5 L830.4 77.8 L829.2 78.1 L827.9 78.3 L826.7 78.4 L825.4 78.4 L824.1 78.4 L822.9 78.3 L821.6 78.1 L820.4 77.8 L819.3 77.5 L818.2 77.1 L817.2 76.7 L816.2 76.2 L815.4 75.7 L814.6 75.1 L813.9 74.4 L813.4 73.8 L813 73.1 L812.6 72.4 L812.5 71.6 L812.4 70.9 L812.5 70.2 L812.6 69.4 L813 68.7 L813.4 68 L813.9 67.4 L814.6 66.7 L815.4 66.1 L816.2 65.6 L837 53.6 L837.9 53.1 L839 52.7 L840.1 52.3 L841.2 52 L842.4 51.7 L843.6 51.5 L844.9 51.4 L846.2 51.4 L847.5 51.4 L848.7 51.5 L850 51.7 L851.2 52 L852.3 52.3 L853.4 52.7 L854.4 53.1 L855.4 53.6 L856.2 54.1 L857 54.7 L857.6 55.4 L858.2 56 L858.6 56.7 L858.9 57.4 L859.1 58.2 L859.2 58.9 L859.1 59.6 L858.9 60.4 L858.6 61.1 L858.2 61.8 L857.6 62.4 L857 63.1 L856.2 63.7 L855.4 64.2 Z"/><path class="n" d="M834.6 76.2 L834.6 94.2"/><ellipse class="n" cx="825.4" cy="70.9" rx="7" ry="4" transform="rotate(-180 825.4 70.9)"/><path class="s" d="M769.3 256.5 L769.3 286.5 L769.5 287.6 L769.9 288.7 L770.6 289.7 L771.6 290.6 L772.7 291.5 L774.1 292.2 L775.7 292.9 L777.4 293.4 L779.2 293.7 L781.1 293.9 L783 293.9 L784.9 293.8 L786.7 293.5 L788.4 293 L790.1 292.4 L791.5 291.7 L813.1 279.2 L813.6 278.9 L814 278.7 L814.4 278.4 L814.8 278.1 L815.1 277.7 L815.4 277.4 L815.7 277.1 L816 276.7 L816.2 276.4 L816.4 276 L816.6 275.7 L816.7 275.3 L816.8 274.9 L816.9 274.6 L816.9 274.2 L816.9 273.8 L816.9 243.8 Z"/><path class="s" d="M791.5 261.7 L790.5 262.2 L789.5 262.6 L788.4 263 L787.3 263.3 L786.1 263.6 L784.8 263.8 L783.6 263.9 L782.3 263.9 L781 263.9 L779.8 263.8 L778.5 263.6 L777.3 263.3 L776.2 263 L775.1 262.6 L774.1 262.2 L773.1 261.7 L772.3 261.2 L771.5 260.6 L770.8 259.9 L770.3 259.3 L769.9 258.6 L769.5 257.9 L769.4 257.1 L769.3 256.4 L769.4 255.7 L769.5 254.9 L769.9 254.2 L770.3 253.5 L770.8 252.9 L771.5 252.2 L772.3 251.6 L773.1 251.1 L794.8 238.6 L795.7 238.1 L796.7 237.7 L797.8 237.3 L799 237 L800.2 236.7 L801.4 236.5 L802.7 236.4 L804 236.4 L805.2 236.4 L806.5 236.5 L807.7 236.7 L808.9 237 L810.1 237.3 L811.2 237.7 L812.2 238.1 L813.1 238.6 L814 239.1 L814.8 239.7 L815.4 240.4 L816 241 L816.4 241.7 L816.7 242.4 L816.9 243.2 L817 243.9 L816.9 244.6 L816.7 245.4 L816.4 246.1 L816 246.8 L815.4 247.4 L814.8 248.1 L814 248.7 L813.1 249.2 Z"/><path class="n" d="M791.5 261.7 L791.5 291.7"/><ellipse class="n" cx="782.3" cy="256.4" rx="7" ry="4" transform="rotate(-180 782.3 256.4)"/><path class="s" d="M951 151.5 L951 173.5 L951.2 174.6 L951.6 175.7 L952.3 176.7 L953.3 177.6 L954.4 178.5 L955.8 179.2 L957.4 179.9 L959.1 180.4 L960.9 180.7 L962.8 180.9 L964.7 180.9 L966.6 180.8 L968.4 180.5 L970.1 180 L971.8 179.4 L973.2 178.7 L997.4 164.7 L997.9 164.4 L998.3 164.2 L998.7 163.9 L999.1 163.6 L999.4 163.2 L999.7 162.9 L1000 162.6 L1000.3 162.2 L1000.5 161.9 L1000.7 161.5 L1000.9 161.2 L1001 160.8 L1001.1 160.4 L1001.2 160.1 L1001.2 159.7 L1001.2 159.3 L1001.2 137.3 Z"/><path class="s" d="M973.2 156.7 L972.2 157.2 L971.2 157.6 L970.1 158 L969 158.3 L967.8 158.6 L966.5 158.8 L965.3 158.9 L964 158.9 L962.7 158.9 L961.5 158.8 L960.2 158.6 L959 158.3 L957.9 158 L956.8 157.6 L955.8 157.2 L954.8 156.7 L954 156.2 L953.2 155.6 L952.5 154.9 L952 154.3 L951.6 153.6 L951.2 152.9 L951.1 152.1 L951 151.4 L951.1 150.7 L951.2 149.9 L951.6 149.2 L952 148.5 L952.5 147.9 L953.2 147.2 L954 146.6 L954.8 146.1 L979.1 132.1 L980 131.6 L981 131.2 L982.1 130.8 L983.3 130.5 L984.5 130.2 L985.7 130 L987 129.9 L988.2 129.9 L989.5 129.9 L990.8 130 L992 130.2 L993.2 130.5 L994.4 130.8 L995.5 131.2 L996.5 131.6 L997.4 132.1 L998.3 132.6 L999.1 133.2 L999.7 133.9 L1000.3 134.5 L1000.7 135.2 L1001 135.9 L1001.2 136.7 L1001.2 137.4 L1001.2 138.1 L1001 138.9 L1000.7 139.6 L1000.3 140.3 L999.7 140.9 L999.1 141.6 L998.3 142.2 L997.4 142.7 Z"/><path class="n" d="M973.2 156.7 L973.2 178.7"/><ellipse class="n" cx="964" cy="151.4" rx="7" ry="4" transform="rotate(-180 964 151.4)"/><path class="s" d="M947.5 141 L947.4 142.3 L947.1 143.5 L946.5 144.8 L945.8 146 L944.8 147.1 L943.7 148.2 L942.4 149.2 L940.9 150.2 L939.3 151 L937.5 151.8 L935.6 152.5 L933.6 153 L931.5 153.4 L929.4 153.7 L927.2 153.9 L925 154 L922.8 153.9 L920.6 153.7 L918.5 153.4 L916.4 153 L914.4 152.5 L912.5 151.8 L910.7 151 L909.1 150.2 L907.6 149.2 L906.3 148.2 L905.2 147.1 L904.2 146 L903.5 144.8 L902.9 143.5 L902.6 142.3 L902.5 141 L902.5 136 L902.6 134.7 L902.9 133.5 L903.5 132.2 L904.2 131 L905.2 129.9 L906.3 128.8 L907.6 127.8 L909.1 126.8 L910.7 126 L912.5 125.2 L914.4 124.5 L916.4 124 L918.5 123.6 L920.6 123.3 L922.8 123.1 L925 123 L927.2 123.1 L929.4 123.3 L931.5 123.6 L933.6 124 L935.6 124.5 L937.5 125.2 L939.3 126 L940.9 126.8 L942.4 127.8 L943.7 128.8 L944.8 129.9 L945.8 131 L946.5 132.2 L947.1 133.5 L947.4 134.7 L947.5 136 Z"/><ellipse class="s" cx="925" cy="136" rx="22.5" ry="13" transform="rotate(-180 925 136)"/><path class="h" d="M947 132 L946.9 133.2 L946.6 134.5 L946.1 135.7 L945.3 136.9 L944.4 138 L943.3 139.1 L942 140.1 L940.6 141 L939 141.8 L937.2 142.6 L935.4 143.2 L933.4 143.7 L931.4 144.2 L929.3 144.5 L927.2 144.6 L925 144.7 L922.8 144.6 L920.7 144.5 L918.6 144.2 L916.6 143.7 L914.6 143.2 L912.8 142.6 L911 141.8 L909.4 141 L908 140.1 L906.7 139.1 L905.6 138 L904.7 136.9 L903.9 135.7 L903.4 134.5 L903.1 133.2 L903 132"/><path class="s" d="M944.9 133.8 L944.8 134.9 L944.5 136 L944.1 137.1 L943.4 138.2 L942.6 139.2 L941.6 140.1 L940.4 141 L939.1 141.8 L937.7 142.6 L936.1 143.3 L934.5 143.8 L932.7 144.3 L930.9 144.7 L929 145 L927.1 145.1 L925.2 145.2 L923.3 145.1 L921.4 145 L919.5 144.7 L917.7 144.3 L915.9 143.8 L914.3 143.3 L912.7 142.6 L911.3 141.8 L910 141 L908.8 140.1 L907.8 139.2 L907 138.2 L906.3 137.1 L905.9 136 L905.6 134.9 L905.5 133.8 L905.5 112.8 L905.6 111.7 L905.9 110.6 L906.3 109.5 L907 108.4 L907.8 107.4 L908.8 106.5 L910 105.6 L911.3 104.8 L912.7 104 L914.3 103.3 L915.9 102.8 L917.7 102.3 L919.5 101.9 L921.4 101.6 L923.3 101.5 L925.2 101.4 L927.1 101.5 L929 101.6 L930.9 101.9 L932.7 102.3 L934.5 102.8 L936.1 103.3 L937.7 104 L939.1 104.8 L940.4 105.6 L941.6 106.5 L942.6 107.4 L943.4 108.4 L944.1 109.5 L944.5 110.6 L944.8 111.7 L944.9 112.8 Z"/><ellipse class="s" cx="925.2" cy="112.8" rx="19.7" ry="11.4" transform="rotate(-180 925.2 112.8)"/><path class="n" d="M941.9 125.3 L941.9 135.3 L945.9 135.3 L945.9 125.3"/><path class="n" d="M934.8 131 L934.8 141 L938.8 141 L938.8 131"/><path class="n" d="M923.2 133.2 L923.2 143.2 L927.2 143.2 L927.2 133.2"/><path class="n" d="M911.6 131 L911.6 141 L915.6 141 L915.6 131"/><path class="n" d="M904.5 125.3 L904.5 135.3 L908.5 135.3 L908.5 125.3"/><path class="h" d="M944.9 121.5 L944.8 122.6 L944.5 123.7 L944.1 124.8 L943.4 125.9 L942.6 126.9 L941.6 127.8 L940.4 128.7 L939.1 129.5 L937.7 130.3 L936.1 131 L934.5 131.5 L932.7 132 L930.9 132.4 L929 132.7 L927.1 132.8 L925.2 132.9 L923.3 132.8 L921.4 132.7 L919.5 132.4 L917.7 132 L915.9 131.5 L914.3 131 L912.7 130.3 L911.3 129.5 L910 128.7 L908.8 127.8 L907.8 126.9 L907 125.9 L906.3 124.8 L905.9 123.7 L905.6 122.6 L905.5 121.5"/><path class="s" style="stroke:none" d="M786 300 L900 240 L1020 190 L1036 200 L1040 385 L905 392 L790 428 Z"/><path class="n" d="M797.5 292 L879.5 253"/><path class="n" d="M813.6 261 L881 223.4"/><path class="n" d="M881 223.4 C887 226 890 233 888.9 237 C887 241 884 244 879.5 245"/><path class="s" d="M879.5 245 L884 243 L895.6 258 L895.6 263 L879.5 253 Z"/><path class="s" d="M808 313 C816 309 824 315 826 327 C827 335 820 339 808 341 Z"/><path class="s" d="M808 366 C816 362 824 368 826 380 C827 388 820 392 808 394 Z"/><path class="s" d="M788.5 310.6 L819.5 296 L823 295 L861 282.5 L865 281.5 L894 266 L895.5 267.5 L895.5 270 L894 269.2 L865 284.7 L861 285.7 L823 298.2 L819.5 299.2 L788.5 313.8 Z"/><path class="n" d="M819.5 296 L821 299"/><path class="n" d="M861 282.5 L863 285.5"/><path class="s" d="M788.5 323.7 L819.5 309.1 L823 308.1 L861 295.6 L865 294.6 L894 279.1 L895.5 280.6 L895.5 283.1 L894 282.3 L865 297.8 L861 298.8 L823 311.3 L819.5 312.3 L788.5 326.9 Z"/><path class="n" d="M819.5 309.1 L821 312.1"/><path class="n" d="M861 295.6 L863 298.6"/><path class="s" d="M788.5 336.8 L819.5 322.2 L823 321.2 L861 308.7 L865 307.7 L894 292.2 L895.5 293.7 L895.5 296.2 L894 295.4 L865 310.9 L861 311.9 L823 324.4 L819.5 325.4 L788.5 340 Z"/><path class="n" d="M819.5 322.2 L821 325.2"/><path class="n" d="M861 308.7 L863 311.7"/><path class="s" d="M788.5 349.9 L819.5 335.3 L823 334.3 L861 321.8 L865 320.8 L894 305.3 L895.5 306.8 L895.5 309.3 L894 308.5 L865 324 L861 325 L823 337.5 L819.5 338.5 L788.5 353.1 Z"/><path class="n" d="M819.5 335.3 L821 338.3"/><path class="n" d="M861 321.8 L863 324.8"/><path class="s" d="M788.5 363 L819.5 348.4 L823 347.4 L861 334.9 L865 333.9 L894 318.4 L895.5 319.9 L895.5 322.4 L894 321.6 L865 337.1 L861 338.1 L823 350.6 L819.5 351.6 L788.5 366.2 Z"/><path class="n" d="M819.5 348.4 L821 351.4"/><path class="n" d="M861 334.9 L863 337.9"/><path class="s" d="M788.5 376.1 L819.5 361.5 L823 360.5 L861 348 L865 347 L894 331.5 L895.5 333 L895.5 335.5 L894 334.7 L865 350.2 L861 351.2 L823 363.7 L819.5 364.7 L788.5 379.3 Z"/><path class="n" d="M819.5 361.5 L821 364.5"/><path class="n" d="M861 348 L863 351"/><path class="s" d="M788.5 389.2 L819.5 374.6 L823 373.6 L861 361.1 L865 360.1 L894 344.6 L895.5 346.1 L895.5 348.6 L894 347.8 L865 363.3 L861 364.3 L823 376.8 L819.5 377.8 L788.5 392.4 Z"/><path class="n" d="M819.5 374.6 L821 377.6"/><path class="n" d="M861 361.1 L863 364.1"/><path class="s" d="M788.5 402.3 L819.5 387.7 L823 386.7 L861 374.2 L865 373.2 L894 357.7 L895.5 359.2 L895.5 361.7 L894 360.9 L865 376.4 L861 377.4 L823 389.9 L819.5 390.9 L788.5 405.5 Z"/><path class="n" d="M819.5 387.7 L821 390.7"/><path class="n" d="M861 374.2 L863 377.2"/><path class="s" d="M788.5 415.4 L819.5 400.8 L823 399.8 L861 387.3 L865 386.3 L894 370.8 L895.5 372.3 L895.5 374.8 L894 374 L865 389.5 L861 390.5 L823 403 L819.5 404 L788.5 418.6 Z"/><path class="n" d="M819.5 400.8 L821 403.8"/><path class="n" d="M861 387.3 L863 390.3"/><path class="s" d="M788.5 428.5 L819.5 413.9 L823 412.9 L861 400.4 L865 399.4 L894 383.9 L895.5 385.4 L895.5 387.9 L894 387.1 L865 402.6 L861 403.6 L823 416.1 L819.5 417.1 L788.5 431.7 Z"/><path class="n" d="M819.5 413.9 L821 416.9"/><path class="n" d="M861 400.4 L863 403.4"/><path class="n" d="M787.6 297 L787.6 470"/><path class="n" d="M784 300 L784 470"/><path class="n" d="M897.3 258 L897.3 390"/><path class="n" d="M812 243 L990 140.5"/><path class="n" d="M812 246.5 L990 144"/><path class="s" d="M880.3 205.1 C893.3 208.1 904.3 227.1 907.3 247.1 L901.3 248.1 C897.3 231.1 889.3 215.1 880.3 211.1 Z"/><path class="n" d="M880.3 205.1 L880.3 217.1"/><path class="n" d="M893.3 219.1 L895.3 222.1"/><path class="s" d="M891.6 198.8 C904.6 201.8 915.6 220.8 918.6 240.8 L912.6 241.8 C908.6 224.8 900.6 208.8 891.6 204.8 Z"/><path class="n" d="M891.6 198.8 L891.6 210.8"/><path class="n" d="M904.6 212.8 L906.6 215.8"/><path class="s" d="M902.9 192.5 C915.9 195.5 926.9 214.5 929.9 234.5 L923.9 235.5 C919.9 218.5 911.9 202.5 902.9 198.5 Z"/><path class="n" d="M902.9 192.5 L902.9 204.5"/><path class="n" d="M915.9 206.5 L917.9 209.5"/><path class="s" d="M914.2 186.2 C927.2 189.2 938.2 208.2 941.2 228.2 L935.2 229.2 C931.2 212.2 923.2 196.2 914.2 192.2 Z"/><path class="n" d="M914.2 186.2 L914.2 198.2"/><path class="n" d="M927.2 200.2 L929.2 203.2"/><path class="s" d="M925.5 179.9 C938.5 182.9 949.5 201.9 952.5 221.9 L946.5 222.9 C942.5 205.9 934.5 189.9 925.5 185.9 Z"/><path class="n" d="M925.5 179.9 L925.5 191.9"/><path class="n" d="M938.5 193.9 L940.5 196.9"/><path class="s" d="M936.8 173.6 C949.8 176.6 960.8 195.6 963.8 215.6 L957.8 216.6 C953.8 199.6 945.8 183.6 936.8 179.6 Z"/><path class="n" d="M936.8 173.6 L936.8 185.6"/><path class="n" d="M949.8 187.6 L951.8 190.6"/><path class="s" d="M948.1 167.3 C961.1 170.3 972.1 189.3 975.1 209.3 L969.1 210.3 C965.1 193.3 957.1 177.3 948.1 173.3 Z"/><path class="n" d="M948.1 167.3 L948.1 179.3"/><path class="n" d="M961.1 181.3 L963.1 184.3"/><path class="s" d="M959.4 161 C972.4 164 983.4 183 986.4 203 L980.4 204 C976.4 187 968.4 171 959.4 167 Z"/><path class="n" d="M959.4 161 L959.4 173"/><path class="n" d="M972.4 175 L974.4 178"/><path class="s" d="M970.7 154.7 C983.7 157.7 994.7 176.7 997.7 196.7 L991.7 197.7 C987.7 180.7 979.7 164.7 970.7 160.7 Z"/><path class="n" d="M970.7 154.7 L970.7 166.7"/><path class="n" d="M983.7 168.7 L985.7 171.7"/><path class="s" d="M982 148.4 C995 151.4 1006 170.4 1009 190.4 L1003 191.4 C999 174.4 991 158.4 982 154.4 Z"/><path class="n" d="M982 148.4 L982 160.4"/><path class="n" d="M995 162.4 L997 165.4"/><path class="s" d="M996 140 L1002 131.5 C1010 128 1018 130 1022 136 C1026 142 1030 152 1030.4 164 L1030.4 181 L1017 185 L1000 178 Z"/><path class="n" d="M996.8 142.2 C1007 150 1014 163 1017 177"/><path class="n" d="M1003 139 C1014 146 1021 160 1024 178"/><path class="n" d="M1002 131.5 L1003 139"/><path class="n" d="M1002 175 L1030 172"/><path class="s" d="M897 256 L1014 194 L1023 183 C1030 186 1035 192 1035.5 198.4 L1035.5 289.3 L1027.6 295.5 L1029 330 L918 394 C908 396 898 392 897 384 Z"/><path class="s" d="M904 252 C904 249 906 248 909 246 L1015 199 C1020 197 1025 200 1025.5 205 L1027.6 330 L918 390 C910 393 904 390 904 382 Z"/><path class="n" d="M1027.6 200 L1027.6 295"/><path class="n" d="M898.2 260 L898.2 383"/><path class="n" d="M910 258 L910 386"/><ellipse class="s" cx="1016" cy="218" rx="16" ry="9.2" transform="rotate(120 1016 218)"/><ellipse class="n" cx="1017" cy="218.5" rx="12.5" ry="7.2" transform="rotate(120 1017 218.5)"/><ellipse class="n" cx="1017.5" cy="219" rx="10.5" ry="6.1" transform="rotate(120 1017.5 219)"/><path class="n" d="M1020.7 215 L1017.5 214.8 L1014.3 218.7 L1014.3 223 L1017.5 223.2 L1020.7 219.3 Z"/><ellipse class="s" cx="925" cy="270" rx="16" ry="9.2" transform="rotate(120 925 270)"/><ellipse class="n" cx="926" cy="270.5" rx="12.5" ry="7.2" transform="rotate(120 926 270.5)"/><ellipse class="n" cx="926.5" cy="271" rx="10.5" ry="6.1" transform="rotate(120 926.5 271)"/><path class="n" d="M929.7 267 L926.5 266.8 L923.3 270.7 L923.3 275 L926.5 275.2 L929.7 271.3 Z"/><ellipse class="s" cx="927.6" cy="376.4" rx="16" ry="9.2" transform="rotate(120 927.6 376.4)"/><ellipse class="n" cx="928.6" cy="376.9" rx="12.5" ry="7.2" transform="rotate(120 928.6 376.9)"/><ellipse class="n" cx="929.1" cy="377.4" rx="10.5" ry="6.1" transform="rotate(120 929.1 377.4)"/><path class="n" d="M932.3 373.4 L929.1 373.2 L925.9 377.1 L925.9 381.4 L929.1 381.6 L932.3 377.7 Z"/><ellipse class="s" cx="970.8" cy="291" rx="58" ry="33.5" transform="rotate(120 970.8 291)"/><ellipse class="n" cx="971.5" cy="295" rx="45" ry="26" transform="rotate(120 971.5 295)"/><ellipse class="n" cx="972" cy="296" rx="42.5" ry="24.5" transform="rotate(120 972 296)"/><ellipse class="n" cx="962" cy="298" rx="36" ry="20.8" transform="rotate(120 962 298)"/><ellipse class="n" cx="962" cy="298" rx="33" ry="19.1" transform="rotate(120 962 298)"/><ellipse class="n" cx="962" cy="300" rx="29" ry="16.7" transform="rotate(120 962 300)"/><ellipse class="n" cx="962" cy="300" rx="26.5" ry="15.3" transform="rotate(120 962 300)"/><path class="s" d="M951.5 311.5 L950.4 310.7 L949.5 309.7 L948.6 308.6 L947.9 307.3 L947.4 305.9 L947 304.3 L946.7 302.5 L946.7 300.7 L946.7 298.8 L947 296.8 L947.4 294.7 L947.9 292.6 L948.6 290.5 L949.5 288.4 L950.4 286.3 L951.5 284.3 L952.7 282.4 L954.1 280.5 L955.5 278.7 L956.9 277 L958.5 275.5 L960 274.2 L961.7 272.9 L963.3 271.9 L964.9 271.1 L966.5 270.4 L968.1 270 L969.6 269.7 L971.1 269.7 L972.5 269.8 L973.8 270.2 L975 270.7 L1046.1 311.7 L1047.2 312.5 L1048.2 313.5 L1049 314.7 L1049.7 316.1 L1050.3 317.6 L1050.7 319.3 L1050.9 321.1 L1050.9 323 L1050.8 325 L1050.5 327.1 L1050 329.2 L1049.4 331.4 L1048.6 333.6 L1047.7 335.7 L1046.6 337.8 L1045.4 339.9 L1044.1 341.9 L1042.7 343.8 L1041.2 345.5 L1039.7 347.2 L1038.1 348.6 L1036.4 349.9 L1034.7 351 L1033 352 L1031.4 352.7 L1029.7 353.2 L1028.1 353.5 L1026.6 353.5 L1025.2 353.4 L1023.8 353 L1022.5 352.5 Z"/><ellipse class="s" cx="1034.3" cy="332.1" rx="23.5" ry="13.6" transform="rotate(120 1034.3 332.1)"/><ellipse class="n" cx="1037.1" cy="333.7" rx="4.5" ry="2.6" transform="rotate(120 1037.1 333.7)"/><ellipse class="n" cx="1034.3" cy="332.1" rx="20" ry="11.5" transform="rotate(120 1034.3 332.1)"/><path class="s" d="M966 273 L1026 302.5 C1031 305 1032 308 1031.6 311 L1020.4 314 L966 287 Z"/><path class="n" d="M966 281 L1024 310"/><path class="n" d="M1020.4 306 L1020.4 314"/><path class="s" d="M790 413 L814 402 L814 446 L790 456 Z"/><path class="s" d="M883 380 L907 370 L907 385 L883 392 Z"/><path class="s" style="stroke:none" d="M478 340 L500 326 L552 243 L607.7 193.1 L782.9 293.2 L786 305 L786 468 L770 478 L735 465 L684 484 L630 482 L575 452 L520 422 L480 386 Z"/><path class="s" style="stroke:none" d="M505 318 L515 305 L745 435 L750 470 L690 486 L640 480 L560 440 L500 405 L490 360 Z"/><path class="s" d="M506 290 C505 300 507 306 509 308 L508 330 L545 350 L560 330 L552 262 Z"/><path class="n" d="M506 288 C504 298 510 308 522 309 C530 309 536 306 540 300"/><path class="n" d="M509 308 L548 330"/><path class="s" style="stroke:none" d="M520 290 L552 248 L700 334 L760 365 L760 420 L540 300 Z"/><path class="s" d="M563 252 L563 322 C576 337 616 334 625 320 L625 252 Z"/><ellipse class="s" cx="597" cy="291.4" rx="20" ry="11.5" transform="rotate(-120 597 291.4)"/><path class="n" d="M589 273.4 L583 267.4 L587 265.4"/><path class="s" d="M615.6 281.8 L615.6 351.8 C628.6 366.8 668.6 363.8 677.6 349.8 L677.6 281.8 Z"/><ellipse class="s" cx="649.6" cy="321.2" rx="20" ry="11.5" transform="rotate(-120 649.6 321.2)"/><path class="n" d="M641.6 303.2 L635.6 297.2 L639.6 295.2"/><path class="s" d="M668.2 311.6 L668.2 381.6 C681.2 396.6 721.2 393.6 730.2 379.6 L730.2 311.6 Z"/><ellipse class="s" cx="702.2" cy="351" rx="20" ry="11.5" transform="rotate(-120 702.2 351)"/><path class="n" d="M694.2 333 L688.2 327 L692.2 325"/><path class="s" d="M606 193.5 L619 187 L639 198.5 L628 205 Z"/><path class="s" d="M548.8 245.2 L549 250 L697 337 L702 338.5 L741 321.5 L782.9 297.5 L782.9 293.2 Z"/><path class="s" d="M548.8 245.2 L607.7 193.1 L782.9 293.2 L741 317 L700 334 Z"/><path class="n" d="M782.9 297 L784.1 338"/><path class="n" d="M788 297.6 L788 340"/><path class="n" d="M556.5 240 C560 226 572 209 590 202"/><path class="n" d="M560 241 C564 229 575 213 592 206"/><path class="s" d="M625.3 249.6 L625.1 251.4 L624.7 253.1 L624 254.8 L622.9 256.5 L621.6 258.1 L620 259.6 L618.2 261.1 L616.1 262.4 L613.9 263.6 L611.4 264.6 L608.8 265.5 L606 266.3 L603.1 266.9 L600.1 267.3 L597.1 267.6 L594 267.7 L590.9 267.6 L587.9 267.3 L584.9 266.9 L582 266.3 L579.2 265.5 L576.6 264.6 L574.1 263.6 L571.9 262.4 L569.8 261.1 L568 259.6 L566.4 258.1 L565.1 256.5 L564 254.8 L563.3 253.1 L562.9 251.4 L562.7 249.6 L562.7 243.6 L562.9 241.8 L563.3 240.1 L564 238.4 L565.1 236.7 L566.4 235.1 L568 233.6 L569.8 232.1 L571.9 230.8 L574.1 229.6 L576.6 228.6 L579.2 227.7 L582 226.9 L584.9 226.3 L587.9 225.9 L590.9 225.6 L594 225.5 L597.1 225.6 L600.1 225.9 L603.1 226.3 L606 226.9 L608.8 227.7 L611.4 228.6 L613.9 229.6 L616.1 230.8 L618.2 232.1 L620 233.6 L621.6 235.1 L622.9 236.7 L624 238.4 L624.7 240.1 L625.1 241.8 L625.3 243.6 Z"/><ellipse class="s" cx="594" cy="243.6" rx="31.3" ry="18.1" transform="rotate(-180 594 243.6)"/><path class="s" d="M566.5 232.9 L573.8 217 L601.4 212.7 L621.5 224.3 L621.5 233.3 L614.2 249.2 L586.6 253.5 L566.5 241.9 Z"/><path class="n" d="M621.5 224.3 L621.5 233.3"/><path class="n" d="M614.2 240.2 L614.2 249.2"/><path class="n" d="M586.6 244.5 L586.6 253.5"/><path class="n" d="M566.5 232.9 L566.5 241.9"/><path class="s" d="M621.5 224.3 L614.2 240.2 L586.6 244.5 L566.5 232.9 L573.8 217 L601.4 212.7 Z"/><ellipse class="n" cx="594" cy="228.6" rx="25" ry="14.4" transform="rotate(-180 594 228.6)"/><path class="s" d="M677.9 279.4 L677.7 281.2 L677.3 282.9 L676.6 284.6 L675.5 286.3 L674.2 287.9 L672.6 289.4 L670.8 290.9 L668.7 292.2 L666.5 293.4 L664 294.4 L661.4 295.3 L658.6 296.1 L655.7 296.7 L652.7 297.1 L649.7 297.4 L646.6 297.5 L643.5 297.4 L640.5 297.1 L637.5 296.7 L634.6 296.1 L631.8 295.3 L629.2 294.4 L626.7 293.4 L624.5 292.2 L622.4 290.9 L620.6 289.4 L619 287.9 L617.7 286.3 L616.6 284.6 L615.9 282.9 L615.5 281.2 L615.3 279.4 L615.3 273.4 L615.5 271.6 L615.9 269.9 L616.6 268.2 L617.7 266.5 L619 264.9 L620.6 263.4 L622.4 261.9 L624.5 260.6 L626.7 259.4 L629.2 258.4 L631.8 257.5 L634.6 256.7 L637.5 256.1 L640.5 255.7 L643.5 255.4 L646.6 255.3 L649.7 255.4 L652.7 255.7 L655.7 256.1 L658.6 256.7 L661.4 257.5 L664 258.4 L666.5 259.4 L668.7 260.6 L670.8 261.9 L672.6 263.4 L674.2 264.9 L675.5 266.5 L676.6 268.2 L677.3 269.9 L677.7 271.6 L677.9 273.4 Z"/><ellipse class="s" cx="646.6" cy="273.4" rx="31.3" ry="18.1" transform="rotate(-180 646.6 273.4)"/><path class="s" d="M619.1 262.7 L626.4 246.8 L654 242.5 L674.1 254.1 L674.1 263.1 L666.8 279 L639.2 283.3 L619.1 271.7 Z"/><path class="n" d="M674.1 254.1 L674.1 263.1"/><path class="n" d="M666.8 270 L666.8 279"/><path class="n" d="M639.2 274.3 L639.2 283.3"/><path class="n" d="M619.1 262.7 L619.1 271.7"/><path class="s" d="M674.1 254.1 L666.8 270 L639.2 274.3 L619.1 262.7 L626.4 246.8 L654 242.5 Z"/><ellipse class="n" cx="646.6" cy="258.4" rx="25" ry="14.4" transform="rotate(-180 646.6 258.4)"/><path class="s" d="M730.5 309.2 L730.3 311 L729.9 312.7 L729.2 314.4 L728.1 316.1 L726.8 317.7 L725.2 319.2 L723.4 320.7 L721.3 322 L719.1 323.2 L716.6 324.2 L714 325.1 L711.2 325.9 L708.3 326.5 L705.3 326.9 L702.3 327.2 L699.2 327.3 L696.1 327.2 L693.1 326.9 L690.1 326.5 L687.2 325.9 L684.4 325.1 L681.8 324.2 L679.3 323.2 L677.1 322 L675 320.7 L673.2 319.2 L671.6 317.7 L670.3 316.1 L669.2 314.4 L668.5 312.7 L668.1 311 L667.9 309.2 L667.9 303.2 L668.1 301.4 L668.5 299.7 L669.2 298 L670.3 296.3 L671.6 294.7 L673.2 293.2 L675 291.7 L677.1 290.4 L679.3 289.2 L681.8 288.2 L684.4 287.3 L687.2 286.5 L690.1 285.9 L693.1 285.5 L696.1 285.2 L699.2 285.1 L702.3 285.2 L705.3 285.5 L708.3 285.9 L711.2 286.5 L714 287.3 L716.6 288.2 L719.1 289.2 L721.3 290.4 L723.4 291.7 L725.2 293.2 L726.8 294.7 L728.1 296.3 L729.2 298 L729.9 299.7 L730.3 301.4 L730.5 303.2 Z"/><ellipse class="s" cx="699.2" cy="303.2" rx="31.3" ry="18.1" transform="rotate(-180 699.2 303.2)"/><path class="s" d="M671.7 292.5 L679 276.6 L706.6 272.3 L726.7 283.9 L726.7 292.9 L719.4 308.8 L691.8 313.1 L671.7 301.5 Z"/><path class="n" d="M726.7 283.9 L726.7 292.9"/><path class="n" d="M719.4 299.8 L719.4 308.8"/><path class="n" d="M691.8 304.1 L691.8 313.1"/><path class="n" d="M671.7 292.5 L671.7 301.5"/><path class="s" d="M726.7 283.9 L719.4 299.8 L691.8 304.1 L671.7 292.5 L679 276.6 L706.6 272.3 Z"/><ellipse class="n" cx="699.2" cy="288.2" rx="25" ry="14.4" transform="rotate(-180 699.2 288.2)"/><path class="s" d="M574 262 L579 264 L566 358 L561 358 Z"/><path class="n" d="M576.5 263 L563.5 358"/><path class="s" d="M579 318 L582 320 L569 356 L566 354 Z"/><path class="s" d="M555.7 297 L607 323.8 L606 327 L554.7 300 Z"/><path class="s" d="M584.7 344 L613.8 359.6 L612.8 362.6 L583.7 347 Z"/><path class="s" d="M626.6 291.8 L631.6 293.8 L618.6 387.8 L613.6 387.8 Z"/><path class="n" d="M629.1 292.8 L616.1 387.8"/><path class="s" d="M631.6 347.8 L634.6 349.8 L621.6 385.8 L618.6 383.8 Z"/><path class="s" d="M608.3 326.8 L659.6 353.6 L658.6 356.8 L607.3 329.8 Z"/><path class="s" d="M637.3 373.8 L666.4 389.4 L665.4 392.4 L636.3 376.8 Z"/><path class="s" d="M679.2 321.6 L684.2 323.6 L671.2 417.6 L666.2 417.6 Z"/><path class="n" d="M681.7 322.6 L668.7 417.6"/><path class="s" d="M684.2 377.6 L687.2 379.6 L674.2 415.6 L671.2 413.6 Z"/><path class="s" d="M660.9 356.6 L712.2 383.4 L711.2 386.6 L659.9 359.6 Z"/><path class="s" d="M689.9 403.6 L719 419.2 L718 422.2 L688.9 406.6 Z"/><path class="s" d="M537.5 281.6 L538.1 281.3 L538.9 281.1 L539.6 281 L540.4 281.1 L541.3 281.2 L542.1 281.5 L543 281.8 L543.9 282.3 L544.8 282.8 L545.7 283.5 L546.5 284.2 L547.4 285.1 L548.2 286 L548.9 287 L549.6 288 L550.3 289 L550.9 290.2 L551.4 291.3 L551.9 292.4 L552.3 293.6 L552.6 294.7 L552.8 295.8 L552.9 296.9 L553 298 L552.9 299 L552.8 299.9 L552.6 300.8 L552.3 301.6 L551.9 302.3 L551.4 302.9 L550.9 303.4 L550.3 303.9 L537.3 311.4 L536.7 311.7 L535.9 311.9 L535.2 312 L534.4 311.9 L533.5 311.8 L532.7 311.5 L531.8 311.2 L530.9 310.7 L530 310.2 L529.1 309.5 L528.3 308.8 L527.4 307.9 L526.6 307 L525.9 306 L525.1 305 L524.5 304 L523.9 302.8 L523.4 301.7 L522.9 300.6 L522.5 299.4 L522.2 298.3 L522 297.2 L521.9 296.1 L521.8 295 L521.9 294 L522 293.1 L522.2 292.2 L522.5 291.4 L522.9 290.7 L523.4 290.1 L523.9 289.6 L524.5 289.1 Z"/><path d="M533.6 283.9 L534.2 283.6 L535 283.4 L535.7 283.3 L536.5 283.3 L537.4 283.5 L538.2 283.7 L539.1 284.1 L540 284.5 L540.9 285.1 L541.8 285.8 L542.6 286.5 L543.5 287.3 L544.3 288.2 L545 289.2 L545.7 290.2 L546.4 291.3 L547 292.4 L547.5 293.5 L548 294.7 L548.4 295.8 L548.7 297 L548.9 298.1 L549 299.2 L549.1 300.2 L549 301.2 L548.9 302.2 L548.7 303.1 L548.4 303.8 L548 304.6 L547.5 305.2 L547 305.7 L546.4 306.1" fill="none" stroke="#111" stroke-width="2.6"/><ellipse class="s" cx="529.6" cy="301" rx="13.5" ry="7.8" transform="rotate(-120 529.6 301)"/><ellipse class="n" cx="529.6" cy="301" rx="10.8" ry="6.2" transform="rotate(-120 529.6 301)"/><ellipse cx="530.3" cy="300.6" rx="6.8" ry="3.9" transform="rotate(-120 530.3 300.6)" fill="none" stroke="#222" stroke-width="1.5"/><path class="h" d="M530.9 296.3 L527.9 296.5 L527.9 300.5 L530.9 304.2 L533.9 304 L533.9 300 Z"/><path class="s" d="M590.1 311.9 L590.7 311.6 L591.5 311.4 L592.2 311.3 L593 311.4 L593.9 311.5 L594.7 311.8 L595.6 312.1 L596.5 312.6 L597.4 313.1 L598.3 313.8 L599.1 314.5 L600 315.4 L600.8 316.3 L601.5 317.3 L602.2 318.3 L602.9 319.3 L603.5 320.5 L604 321.6 L604.5 322.7 L604.9 323.9 L605.2 325 L605.4 326.1 L605.5 327.2 L605.6 328.3 L605.5 329.3 L605.4 330.2 L605.2 331.1 L604.9 331.9 L604.5 332.6 L604 333.2 L603.5 333.7 L602.9 334.2 L589.9 341.7 L589.3 342 L588.5 342.2 L587.8 342.3 L587 342.2 L586.1 342.1 L585.3 341.8 L584.4 341.5 L583.5 341 L582.6 340.5 L581.7 339.8 L580.9 339.1 L580 338.2 L579.2 337.3 L578.5 336.3 L577.7 335.3 L577.1 334.3 L576.5 333.1 L576 332 L575.5 330.9 L575.1 329.7 L574.8 328.6 L574.6 327.5 L574.5 326.4 L574.4 325.3 L574.5 324.3 L574.6 323.4 L574.8 322.5 L575.1 321.7 L575.5 321 L576 320.4 L576.5 319.9 L577.1 319.4 Z"/><path d="M586.2 314.2 L586.8 313.9 L587.6 313.7 L588.3 313.6 L589.1 313.6 L590 313.8 L590.8 314 L591.7 314.4 L592.6 314.8 L593.5 315.4 L594.4 316.1 L595.2 316.8 L596.1 317.6 L596.9 318.5 L597.6 319.5 L598.3 320.5 L599 321.6 L599.6 322.7 L600.1 323.8 L600.6 325 L601 326.1 L601.3 327.3 L601.5 328.4 L601.6 329.5 L601.7 330.5 L601.6 331.5 L601.5 332.5 L601.3 333.4 L601 334.1 L600.6 334.9 L600.1 335.5 L599.6 336 L599 336.4" fill="none" stroke="#111" stroke-width="2.6"/><ellipse class="s" cx="582.2" cy="331.3" rx="13.5" ry="7.8" transform="rotate(-120 582.2 331.3)"/><ellipse class="n" cx="582.2" cy="331.3" rx="10.8" ry="6.2" transform="rotate(-120 582.2 331.3)"/><ellipse cx="582.9" cy="330.9" rx="6.8" ry="3.9" transform="rotate(-120 582.9 330.9)" fill="none" stroke="#222" stroke-width="1.5"/><path class="h" d="M583.5 326.6 L580.5 326.8 L580.5 330.8 L583.5 334.5 L586.5 334.3 L586.5 330.3 Z"/><path class="s" d="M642.7 342.2 L643.3 341.9 L644.1 341.7 L644.8 341.6 L645.6 341.7 L646.5 341.8 L647.3 342.1 L648.2 342.4 L649.1 342.9 L650 343.4 L650.9 344.1 L651.7 344.8 L652.6 345.7 L653.4 346.6 L654.1 347.6 L654.8 348.6 L655.5 349.6 L656.1 350.8 L656.6 351.9 L657.1 353 L657.5 354.2 L657.8 355.3 L658 356.4 L658.1 357.5 L658.2 358.6 L658.1 359.6 L658 360.5 L657.8 361.4 L657.5 362.2 L657.1 362.9 L656.6 363.5 L656.1 364 L655.5 364.5 L642.5 372 L641.9 372.3 L641.1 372.5 L640.4 372.6 L639.6 372.5 L638.7 372.4 L637.9 372.1 L637 371.8 L636.1 371.3 L635.2 370.8 L634.3 370.1 L633.5 369.4 L632.6 368.5 L631.8 367.6 L631.1 366.6 L630.3 365.6 L629.7 364.6 L629.1 363.4 L628.6 362.3 L628.1 361.2 L627.7 360 L627.4 358.9 L627.2 357.8 L627.1 356.7 L627 355.6 L627.1 354.6 L627.2 353.7 L627.4 352.8 L627.7 352 L628.1 351.3 L628.6 350.7 L629.1 350.2 L629.7 349.7 Z"/><path d="M638.8 344.5 L639.4 344.2 L640.2 344 L640.9 343.9 L641.7 343.9 L642.6 344.1 L643.4 344.3 L644.3 344.7 L645.2 345.1 L646.1 345.7 L647 346.4 L647.8 347.1 L648.7 347.9 L649.5 348.8 L650.2 349.8 L650.9 350.8 L651.6 351.9 L652.2 353 L652.7 354.1 L653.2 355.3 L653.6 356.4 L653.9 357.6 L654.1 358.7 L654.2 359.8 L654.3 360.8 L654.2 361.8 L654.1 362.8 L653.9 363.7 L653.6 364.4 L653.2 365.2 L652.7 365.8 L652.2 366.3 L651.6 366.7" fill="none" stroke="#111" stroke-width="2.6"/><ellipse class="s" cx="634.8" cy="361.6" rx="13.5" ry="7.8" transform="rotate(-120 634.8 361.6)"/><ellipse class="n" cx="634.8" cy="361.6" rx="10.8" ry="6.2" transform="rotate(-120 634.8 361.6)"/><ellipse cx="635.5" cy="361.2" rx="6.8" ry="3.9" transform="rotate(-120 635.5 361.2)" fill="none" stroke="#222" stroke-width="1.5"/><path class="h" d="M636.1 356.9 L633.1 357.1 L633.1 361.1 L636.1 364.8 L639.1 364.6 L639.1 360.6 Z"/><path class="s" d="M755.1 333.2 L756 332.8 L756.9 332.5 L757.9 332.4 L759 332.4 L760.1 332.6 L761.3 332.9 L762.4 333.4 L763.6 334 L764.8 334.8 L766 335.6 L767.1 336.6 L768.2 337.7 L769.3 338.9 L770.3 340.2 L771.2 341.6 L772.1 343 L772.9 344.5 L773.6 346 L774.2 347.5 L774.7 349 L775.1 350.5 L775.4 352 L775.6 353.4 L775.6 354.8 L775.6 356.2 L775.4 357.4 L775.1 358.6 L774.7 359.6 L774.2 360.6 L773.6 361.4 L772.9 362.1 L772.1 362.6 L708 399.6 L707.2 400 L706.2 400.3 L705.2 400.4 L704.1 400.4 L703 400.2 L701.9 399.9 L700.7 399.4 L699.5 398.8 L698.3 398 L697.2 397.2 L696 396.2 L694.9 395.1 L693.9 393.9 L692.8 392.6 L691.9 391.2 L691 389.8 L690.2 388.3 L689.5 386.8 L688.9 385.3 L688.4 383.8 L688 382.3 L687.7 380.8 L687.6 379.4 L687.5 378 L687.6 376.6 L687.7 375.4 L688 374.2 L688.4 373.2 L688.9 372.2 L689.5 371.4 L690.2 370.7 L691 370.2 Z"/><path class="s" d="M695.3 372.5 L695.9 372.2 L696.7 372 L697.4 371.9 L698.2 372 L699.1 372.1 L699.9 372.4 L700.8 372.7 L701.7 373.2 L702.6 373.7 L703.5 374.4 L704.3 375.1 L705.2 376 L706 376.9 L706.7 377.9 L707.4 378.9 L708.1 379.9 L708.7 381.1 L709.2 382.2 L709.7 383.3 L710.1 384.5 L710.4 385.6 L710.6 386.7 L710.7 387.8 L710.8 388.9 L710.7 389.9 L710.6 390.8 L710.4 391.7 L710.1 392.5 L709.7 393.2 L709.2 393.8 L708.7 394.3 L708.1 394.8 L695.1 402.3 L694.5 402.6 L693.7 402.8 L693 402.9 L692.2 402.8 L691.3 402.7 L690.5 402.4 L689.6 402.1 L688.7 401.6 L687.8 401.1 L686.9 400.4 L686.1 399.7 L685.2 398.8 L684.4 397.9 L683.7 396.9 L682.9 395.9 L682.3 394.9 L681.7 393.7 L681.2 392.6 L680.7 391.5 L680.3 390.3 L680 389.2 L679.8 388.1 L679.7 387 L679.6 385.9 L679.7 384.9 L679.8 384 L680 383.1 L680.3 382.3 L680.7 381.6 L681.2 381 L681.7 380.5 L682.3 380 Z"/><path d="M691.4 374.8 L692 374.5 L692.8 374.3 L693.5 374.2 L694.3 374.2 L695.2 374.4 L696 374.6 L696.9 375 L697.8 375.4 L698.7 376 L699.6 376.7 L700.4 377.4 L701.3 378.2 L702.1 379.1 L702.8 380.1 L703.5 381.1 L704.2 382.2 L704.8 383.3 L705.3 384.4 L705.8 385.6 L706.2 386.7 L706.5 387.9 L706.7 389 L706.8 390.1 L706.9 391.1 L706.8 392.1 L706.7 393.1 L706.5 394 L706.2 394.7 L705.8 395.5 L705.3 396.1 L704.8 396.6 L704.2 397" fill="none" stroke="#111" stroke-width="2.6"/><ellipse class="s" cx="687.4" cy="391.9" rx="13.5" ry="7.8" transform="rotate(-120 687.4 391.9)"/><ellipse class="n" cx="687.4" cy="391.9" rx="10.8" ry="6.2" transform="rotate(-120 687.4 391.9)"/><ellipse cx="688.1" cy="391.5" rx="6.8" ry="3.9" transform="rotate(-120 688.1 391.5)" fill="none" stroke="#222" stroke-width="1.5"/><path class="h" d="M688.7 387.2 L685.7 387.4 L685.7 391.4 L688.7 395.1 L691.7 394.9 L691.7 390.9 Z"/><path class="s" d="M740.9 304.8 L742.8 304 L744.8 303.4 L746.9 303.1 L749.2 303.2 L751.5 303.6 L754 304.3 L756.4 305.3 L758.9 306.6 L761.4 308.2 L763.9 310 L766.3 312.1 L768.7 314.5 L770.9 317 L773.1 319.7 L775.1 322.6 L776.9 325.6 L778.6 328.7 L780.1 331.9 L781.4 335.1 L782.4 338.3 L783.3 341.5 L783.9 344.7 L784.3 347.7 L784.4 350.7 L784.3 353.5 L783.9 356.1 L783.3 358.6 L782.4 360.8 L781.4 362.8 L780.1 364.6 L778.6 366 L776.9 367.2 L770 371.2 L768.1 372 L766.1 372.6 L764 372.9 L761.7 372.8 L759.4 372.4 L757 371.7 L754.5 370.7 L752 369.4 L749.5 367.8 L747 366 L744.6 363.9 L742.3 361.5 L740 359 L737.9 356.3 L735.9 353.4 L734 350.4 L732.3 347.3 L730.8 344.1 L729.5 340.9 L728.5 337.7 L727.6 334.5 L727 331.3 L726.7 328.3 L726.5 325.3 L726.7 322.5 L727 319.9 L727.6 317.4 L728.5 315.2 L729.5 313.2 L730.8 311.4 L732.3 310 L734 308.8 Z"/><ellipse class="s" cx="752" cy="340" rx="36" ry="20.8" transform="rotate(-120 752 340)"/><ellipse class="n" cx="753" cy="340" rx="23" ry="13.3" transform="rotate(-120 753 340)"/><ellipse class="n" cx="756" cy="338.5" rx="19" ry="11" transform="rotate(-120 756 338.5)"/><path class="s" d="M530.9 358.5 L530.9 383 L523.1 387.5 L504.7 389.1 L486.3 366.2 L486.3 341.7 L494.1 337.2 L512.5 335.6 Z"/><path class="n" d="M523.1 363 L530.9 358.5"/><path class="n" d="M504.7 340.1 L512.5 335.6"/><path class="n" d="M486.3 341.7 L494.1 337.2"/><path class="n" d="M486.3 366.2 L494.1 361.7"/><path class="s" d="M523.1 363 L504.7 340.1 L486.3 341.7 L486.3 366.2 L504.7 389.1 L523.1 387.5 Z"/><path class="s" d="M490.2 339.5 L491.7 338.8 L493.3 338.3 L495 338.1 L496.8 338.2 L498.7 338.5 L500.7 339.1 L502.7 339.9 L504.7 340.9 L506.7 342.2 L508.7 343.7 L510.6 345.4 L512.5 347.3 L514.4 349.3 L516.1 351.5 L517.7 353.8 L519.2 356.2 L520.5 358.7 L521.7 361.3 L522.8 363.9 L523.6 366.5 L524.3 369.1 L524.8 371.6 L525.1 374.1 L525.2 376.4 L525.1 378.7 L524.8 380.8 L524.3 382.8 L523.6 384.6 L522.8 386.2 L521.7 387.6 L520.5 388.8 L519.2 389.7 L514 392.7 L512.5 393.4 L510.9 393.9 L509.2 394.1 L507.3 394 L505.5 393.7 L503.5 393.1 L501.5 392.3 L499.5 391.3 L497.5 390 L495.5 388.5 L493.5 386.8 L491.7 384.9 L489.8 382.9 L488.1 380.7 L486.5 378.4 L485 376 L483.6 373.5 L482.4 370.9 L481.4 368.3 L480.6 365.7 L479.9 363.1 L479.4 360.6 L479.1 358.1 L479 355.8 L479.1 353.5 L479.4 351.4 L479.9 349.4 L480.6 347.6 L481.4 346 L482.4 344.6 L483.6 343.4 L485 342.5 Z"/><ellipse class="s" cx="499.5" cy="367.6" rx="29" ry="16.7" transform="rotate(-120 499.5 367.6)"/><ellipse class="n" cx="499.8" cy="367.4" rx="23.5" ry="13.6" transform="rotate(-120 499.8 367.4)"/><ellipse class="n" cx="503" cy="366" rx="20" ry="11.5" transform="rotate(-120 503 366)"/><path class="s" d="M537.5 336 L538.1 335.7 L538.9 335.5 L539.6 335.4 L540.4 335.5 L541.3 335.6 L542.1 335.9 L543 336.2 L543.9 336.7 L544.8 337.2 L545.7 337.9 L546.5 338.6 L547.4 339.5 L548.2 340.4 L548.9 341.4 L549.6 342.4 L550.3 343.4 L550.9 344.6 L551.4 345.7 L551.9 346.8 L552.3 348 L552.6 349.1 L552.8 350.2 L552.9 351.3 L553 352.4 L552.9 353.4 L552.8 354.3 L552.6 355.2 L552.3 356 L551.9 356.7 L551.4 357.3 L550.9 357.8 L550.3 358.3 L537.3 365.8 L536.7 366.1 L535.9 366.3 L535.2 366.4 L534.4 366.3 L533.5 366.2 L532.7 365.9 L531.8 365.6 L530.9 365.1 L530 364.6 L529.1 363.9 L528.3 363.2 L527.4 362.3 L526.6 361.4 L525.9 360.4 L525.1 359.4 L524.5 358.4 L523.9 357.2 L523.4 356.1 L522.9 355 L522.5 353.8 L522.2 352.7 L522 351.6 L521.9 350.5 L521.8 349.4 L521.9 348.4 L522 347.5 L522.2 346.6 L522.5 345.8 L522.9 345.1 L523.4 344.5 L523.9 344 L524.5 343.5 Z"/><path d="M533.6 338.3 L534.2 338 L535 337.8 L535.7 337.7 L536.5 337.7 L537.4 337.9 L538.2 338.1 L539.1 338.5 L540 338.9 L540.9 339.5 L541.8 340.2 L542.6 340.9 L543.5 341.7 L544.3 342.6 L545 343.6 L545.7 344.6 L546.4 345.7 L547 346.8 L547.5 347.9 L548 349.1 L548.4 350.2 L548.7 351.4 L548.9 352.5 L549 353.6 L549.1 354.6 L549 355.6 L548.9 356.6 L548.7 357.5 L548.4 358.2 L548 359 L547.5 359.6 L547 360.1 L546.4 360.5" fill="none" stroke="#111" stroke-width="2.6"/><ellipse class="s" cx="529.6" cy="355.4" rx="13.5" ry="7.8" transform="rotate(-120 529.6 355.4)"/><ellipse class="n" cx="529.6" cy="355.4" rx="10.8" ry="6.2" transform="rotate(-120 529.6 355.4)"/><ellipse cx="530.3" cy="355" rx="6.8" ry="3.9" transform="rotate(-120 530.3 355)" fill="none" stroke="#222" stroke-width="1.5"/><path class="h" d="M530.9 350.7 L527.9 350.9 L527.9 354.9 L530.9 358.6 L533.9 358.4 L533.9 354.4 Z"/><path class="s" d="M590.1 366.3 L590.7 366 L591.5 365.8 L592.2 365.7 L593 365.8 L593.9 365.9 L594.7 366.2 L595.6 366.5 L596.5 367 L597.4 367.5 L598.3 368.2 L599.1 368.9 L600 369.8 L600.8 370.7 L601.5 371.7 L602.2 372.7 L602.9 373.7 L603.5 374.9 L604 376 L604.5 377.1 L604.9 378.3 L605.2 379.4 L605.4 380.5 L605.5 381.6 L605.6 382.7 L605.5 383.7 L605.4 384.6 L605.2 385.5 L604.9 386.3 L604.5 387 L604 387.6 L603.5 388.1 L602.9 388.6 L589.9 396.1 L589.3 396.4 L588.5 396.6 L587.8 396.7 L587 396.6 L586.1 396.5 L585.3 396.2 L584.4 395.9 L583.5 395.4 L582.6 394.9 L581.7 394.2 L580.9 393.5 L580 392.6 L579.2 391.7 L578.5 390.7 L577.7 389.7 L577.1 388.7 L576.5 387.5 L576 386.4 L575.5 385.3 L575.1 384.1 L574.8 383 L574.6 381.9 L574.5 380.8 L574.4 379.7 L574.5 378.7 L574.6 377.8 L574.8 376.9 L575.1 376.1 L575.5 375.4 L576 374.8 L576.5 374.3 L577.1 373.8 Z"/><path d="M586.2 368.6 L586.8 368.3 L587.6 368.1 L588.3 368 L589.1 368 L590 368.2 L590.8 368.4 L591.7 368.8 L592.6 369.2 L593.5 369.8 L594.4 370.5 L595.2 371.2 L596.1 372 L596.9 372.9 L597.6 373.9 L598.3 374.9 L599 376 L599.6 377.1 L600.1 378.2 L600.6 379.4 L601 380.5 L601.3 381.7 L601.5 382.8 L601.6 383.9 L601.7 384.9 L601.6 385.9 L601.5 386.9 L601.3 387.8 L601 388.5 L600.6 389.3 L600.1 389.9 L599.6 390.4 L599 390.8" fill="none" stroke="#111" stroke-width="2.6"/><ellipse class="s" cx="582.2" cy="385.7" rx="13.5" ry="7.8" transform="rotate(-120 582.2 385.7)"/><ellipse class="n" cx="582.2" cy="385.7" rx="10.8" ry="6.2" transform="rotate(-120 582.2 385.7)"/><ellipse cx="582.9" cy="385.3" rx="6.8" ry="3.9" transform="rotate(-120 582.9 385.3)" fill="none" stroke="#222" stroke-width="1.5"/><path class="h" d="M583.5 381 L580.5 381.2 L580.5 385.2 L583.5 388.9 L586.5 388.7 L586.5 384.7 Z"/><path class="s" d="M642.7 396.6 L643.3 396.3 L644.1 396.1 L644.8 396 L645.6 396.1 L646.5 396.2 L647.3 396.5 L648.2 396.8 L649.1 397.3 L650 397.8 L650.9 398.5 L651.7 399.2 L652.6 400.1 L653.4 401 L654.1 402 L654.8 403 L655.5 404 L656.1 405.2 L656.6 406.3 L657.1 407.4 L657.5 408.6 L657.8 409.7 L658 410.8 L658.1 411.9 L658.2 413 L658.1 414 L658 414.9 L657.8 415.8 L657.5 416.6 L657.1 417.3 L656.6 417.9 L656.1 418.4 L655.5 418.9 L642.5 426.4 L641.9 426.7 L641.1 426.9 L640.4 427 L639.6 426.9 L638.7 426.8 L637.9 426.5 L637 426.2 L636.1 425.7 L635.2 425.2 L634.3 424.5 L633.5 423.8 L632.6 422.9 L631.8 422 L631.1 421 L630.3 420 L629.7 419 L629.1 417.8 L628.6 416.7 L628.1 415.6 L627.7 414.4 L627.4 413.3 L627.2 412.2 L627.1 411.1 L627 410 L627.1 409 L627.2 408.1 L627.4 407.2 L627.7 406.4 L628.1 405.7 L628.6 405.1 L629.1 404.6 L629.7 404.1 Z"/><path d="M638.8 398.9 L639.4 398.6 L640.2 398.4 L640.9 398.3 L641.7 398.3 L642.6 398.5 L643.4 398.7 L644.3 399.1 L645.2 399.5 L646.1 400.1 L647 400.8 L647.8 401.5 L648.7 402.3 L649.5 403.2 L650.2 404.2 L650.9 405.2 L651.6 406.3 L652.2 407.4 L652.7 408.5 L653.2 409.7 L653.6 410.8 L653.9 412 L654.1 413.1 L654.2 414.2 L654.3 415.2 L654.2 416.2 L654.1 417.2 L653.9 418.1 L653.6 418.8 L653.2 419.6 L652.7 420.2 L652.2 420.7 L651.6 421.1" fill="none" stroke="#111" stroke-width="2.6"/><ellipse class="s" cx="634.8" cy="416" rx="13.5" ry="7.8" transform="rotate(-120 634.8 416)"/><ellipse class="n" cx="634.8" cy="416" rx="10.8" ry="6.2" transform="rotate(-120 634.8 416)"/><ellipse cx="635.5" cy="415.6" rx="6.8" ry="3.9" transform="rotate(-120 635.5 415.6)" fill="none" stroke="#222" stroke-width="1.5"/><path class="h" d="M636.1 411.3 L633.1 411.5 L633.1 415.5 L636.1 419.2 L639.1 419 L639.1 415 Z"/><path class="s" d="M751.6 389.6 L752.5 389.2 L753.5 388.9 L754.5 388.8 L755.5 388.8 L756.7 389 L757.8 389.3 L759 389.8 L760.1 390.4 L761.3 391.2 L762.5 392 L763.6 393 L764.7 394.1 L765.8 395.3 L766.8 396.6 L767.8 398 L768.6 399.4 L769.4 400.9 L770.1 402.4 L770.7 403.9 L771.3 405.4 L771.6 406.9 L771.9 408.4 L772.1 409.8 L772.2 411.2 L772.1 412.6 L771.9 413.8 L771.6 415 L771.3 416 L770.7 417 L770.1 417.8 L769.4 418.5 L768.6 419 L708 454 L707.2 454.4 L706.2 454.7 L705.2 454.8 L704.1 454.8 L703 454.6 L701.9 454.3 L700.7 453.8 L699.5 453.2 L698.3 452.4 L697.2 451.6 L696 450.6 L694.9 449.5 L693.9 448.3 L692.8 447 L691.9 445.6 L691 444.2 L690.2 442.7 L689.5 441.2 L688.9 439.7 L688.4 438.2 L688 436.7 L687.7 435.2 L687.6 433.8 L687.5 432.4 L687.6 431 L687.7 429.8 L688 428.6 L688.4 427.6 L688.9 426.6 L689.5 425.8 L690.2 425.1 L691 424.6 Z"/><path class="s" d="M695.3 426.9 L695.9 426.6 L696.7 426.4 L697.4 426.3 L698.2 426.4 L699.1 426.5 L699.9 426.8 L700.8 427.1 L701.7 427.6 L702.6 428.1 L703.5 428.8 L704.3 429.5 L705.2 430.4 L706 431.3 L706.7 432.3 L707.4 433.3 L708.1 434.3 L708.7 435.5 L709.2 436.6 L709.7 437.7 L710.1 438.9 L710.4 440 L710.6 441.1 L710.7 442.2 L710.8 443.3 L710.7 444.3 L710.6 445.2 L710.4 446.1 L710.1 446.9 L709.7 447.6 L709.2 448.2 L708.7 448.7 L708.1 449.2 L695.1 456.7 L694.5 457 L693.7 457.2 L693 457.3 L692.2 457.2 L691.3 457.1 L690.5 456.8 L689.6 456.5 L688.7 456 L687.8 455.5 L686.9 454.8 L686.1 454.1 L685.2 453.2 L684.4 452.3 L683.7 451.3 L682.9 450.3 L682.3 449.3 L681.7 448.1 L681.2 447 L680.7 445.9 L680.3 444.7 L680 443.6 L679.8 442.5 L679.7 441.4 L679.6 440.3 L679.7 439.3 L679.8 438.4 L680 437.5 L680.3 436.7 L680.7 436 L681.2 435.4 L681.7 434.9 L682.3 434.4 Z"/><path d="M691.4 429.2 L692 428.9 L692.8 428.7 L693.5 428.6 L694.3 428.6 L695.2 428.8 L696 429 L696.9 429.4 L697.8 429.8 L698.7 430.4 L699.6 431.1 L700.4 431.8 L701.3 432.6 L702.1 433.5 L702.8 434.5 L703.5 435.5 L704.2 436.6 L704.8 437.7 L705.3 438.8 L705.8 440 L706.2 441.1 L706.5 442.3 L706.7 443.4 L706.8 444.5 L706.9 445.5 L706.8 446.5 L706.7 447.5 L706.5 448.4 L706.2 449.1 L705.8 449.9 L705.3 450.5 L704.8 451 L704.2 451.4" fill="none" stroke="#111" stroke-width="2.6"/><ellipse class="s" cx="687.4" cy="446.3" rx="13.5" ry="7.8" transform="rotate(-120 687.4 446.3)"/><ellipse class="n" cx="687.4" cy="446.3" rx="10.8" ry="6.2" transform="rotate(-120 687.4 446.3)"/><ellipse cx="688.1" cy="445.9" rx="6.8" ry="3.9" transform="rotate(-120 688.1 445.9)" fill="none" stroke="#222" stroke-width="1.5"/><path class="h" d="M688.7 441.6 L685.7 441.8 L685.7 445.8 L688.7 449.5 L691.7 449.3 L691.7 445.3 Z"/><path class="s" d="M541.8 365.5 L543.3 364.8 L545 364.3 L546.8 364.1 L548.6 364.2 L550.6 364.5 L552.6 365.1 L554.7 365.9 L556.8 367 L558.8 368.3 L560.9 369.9 L562.9 371.6 L564.9 373.6 L566.8 375.7 L568.5 377.9 L570.2 380.3 L571.8 382.8 L573.2 385.4 L574.4 388.1 L575.5 390.8 L576.4 393.4 L577.1 396.1 L577.6 398.7 L577.9 401.3 L578 403.7 L577.9 406.1 L577.6 408.3 L577.1 410.3 L576.4 412.2 L575.5 413.8 L574.4 415.3 L573.2 416.5 L571.8 417.5 L568.3 419.5 L566.8 420.2 L565.1 420.7 L563.3 420.9 L561.4 420.8 L559.5 420.5 L557.4 419.9 L555.4 419.1 L553.3 418 L551.2 416.7 L549.2 415.1 L547.1 413.4 L545.2 411.4 L543.3 409.3 L541.5 407.1 L539.8 404.7 L538.3 402.2 L536.9 399.6 L535.7 396.9 L534.6 394.2 L533.7 391.6 L533 388.9 L532.5 386.3 L532.2 383.7 L532.1 381.3 L532.2 378.9 L532.5 376.7 L533 374.7 L533.7 372.8 L534.6 371.2 L535.7 369.7 L536.9 368.5 L538.3 367.5 Z"/><ellipse class="s" cx="553.3" cy="393.5" rx="30" ry="17.3" transform="rotate(-120 553.3 393.5)"/><path class="s" d="M531.1 407.2 L526.3 382.2 L534.1 377.7 L548.3 370.1 L567.3 387.3 L572.1 412.3 L564.3 416.8 L550.1 424.4 Z"/><path class="n" d="M559.5 391.8 L567.3 387.3"/><path class="n" d="M540.5 374.6 L548.3 370.1"/><path class="n" d="M526.3 382.2 L534.1 377.7"/><path class="n" d="M531.1 407.2 L538.9 402.7"/><path class="s" d="M559.5 391.8 L540.5 374.6 L526.3 382.2 L531.1 407.2 L550.1 424.4 L564.3 416.8 Z"/><ellipse class="n" cx="545.3" cy="399.5" rx="25" ry="14.4" transform="rotate(-120 545.3 399.5)"/><path class="s" d="M594.4 394.3 L595.9 393.6 L597.6 393.1 L599.4 392.9 L601.2 393 L603.2 393.3 L605.2 393.9 L607.3 394.7 L609.4 395.8 L611.4 397.1 L613.5 398.7 L615.5 400.4 L617.5 402.4 L619.4 404.5 L621.1 406.7 L622.8 409.1 L624.4 411.6 L625.8 414.2 L627 416.9 L628.1 419.6 L629 422.2 L629.7 424.9 L630.2 427.5 L630.5 430.1 L630.6 432.5 L630.5 434.9 L630.2 437.1 L629.7 439.1 L629 441 L628.1 442.6 L627 444.1 L625.8 445.3 L624.4 446.3 L620.9 448.3 L619.4 449 L617.7 449.5 L615.9 449.7 L614 449.6 L612.1 449.3 L610 448.7 L608 447.9 L605.9 446.8 L603.8 445.5 L601.8 443.9 L599.7 442.2 L597.8 440.2 L595.9 438.1 L594.1 435.9 L592.4 433.5 L590.9 431 L589.5 428.4 L588.3 425.7 L587.2 423 L586.3 420.4 L585.6 417.7 L585.1 415.1 L584.8 412.5 L584.7 410.1 L584.8 407.7 L585.1 405.5 L585.6 403.5 L586.3 401.6 L587.2 400 L588.3 398.5 L589.5 397.3 L590.9 396.3 Z"/><ellipse class="s" cx="605.9" cy="422.3" rx="30" ry="17.3" transform="rotate(-120 605.9 422.3)"/><path class="s" d="M583.7 436 L578.9 411 L586.7 406.5 L600.9 398.9 L619.9 416.1 L624.7 441.1 L616.9 445.6 L602.7 453.2 Z"/><path class="n" d="M612.1 420.6 L619.9 416.1"/><path class="n" d="M593.1 403.4 L600.9 398.9"/><path class="n" d="M578.9 411 L586.7 406.5"/><path class="n" d="M583.7 436 L591.5 431.5"/><path class="s" d="M612.1 420.6 L593.1 403.4 L578.9 411 L583.7 436 L602.7 453.2 L616.9 445.6 Z"/><ellipse class="n" cx="597.9" cy="428.3" rx="25" ry="14.4" transform="rotate(-120 597.9 428.3)"/><path class="s" d="M647 423.1 L648.5 422.4 L650.2 421.9 L652 421.7 L653.8 421.8 L655.8 422.1 L657.8 422.7 L659.9 423.5 L662 424.6 L664 425.9 L666.1 427.5 L668.1 429.2 L670.1 431.2 L672 433.3 L673.7 435.5 L675.4 437.9 L677 440.4 L678.4 443 L679.6 445.7 L680.7 448.4 L681.6 451 L682.3 453.7 L682.8 456.3 L683.1 458.9 L683.2 461.3 L683.1 463.7 L682.8 465.9 L682.3 467.9 L681.6 469.8 L680.7 471.4 L679.6 472.9 L678.4 474.1 L677 475.1 L673.5 477.1 L672 477.8 L670.3 478.3 L668.5 478.5 L666.6 478.4 L664.7 478.1 L662.6 477.5 L660.6 476.7 L658.5 475.6 L656.4 474.3 L654.4 472.7 L652.3 471 L650.4 469 L648.5 466.9 L646.7 464.7 L645 462.3 L643.5 459.8 L642.1 457.2 L640.9 454.5 L639.8 451.8 L638.9 449.2 L638.2 446.5 L637.7 443.9 L637.4 441.3 L637.3 438.9 L637.4 436.5 L637.7 434.3 L638.2 432.3 L638.9 430.4 L639.8 428.8 L640.9 427.3 L642.1 426.1 L643.5 425.1 Z"/><ellipse class="s" cx="658.5" cy="451.1" rx="30" ry="17.3" transform="rotate(-120 658.5 451.1)"/><path class="s" d="M636.3 464.8 L631.5 439.8 L639.3 435.3 L653.5 427.7 L672.5 444.9 L677.3 469.9 L669.5 474.4 L655.3 482 Z"/><path class="n" d="M664.7 449.4 L672.5 444.9"/><path class="n" d="M645.7 432.2 L653.5 427.7"/><path class="n" d="M631.5 439.8 L639.3 435.3"/><path class="n" d="M636.3 464.8 L644.1 460.3"/><path class="s" d="M664.7 449.4 L645.7 432.2 L631.5 439.8 L636.3 464.8 L655.3 482 L669.5 474.4 Z"/><ellipse class="n" cx="650.5" cy="457.1" rx="25" ry="14.4" transform="rotate(-120 650.5 457.1)"/><path class="s" style="stroke:none" d="M688 484 L742 470 L772 420 L735 438 Z"/><path class="n" d="M672.5 481 L740 452"/><path class="s" d="M757 411.6 L758.6 410.8 L760.3 410.3 L762.1 410.1 L764.1 410.2 L766.1 410.5 L768.2 411.1 L770.3 412 L772.5 413.1 L774.6 414.5 L776.7 416 L778.8 417.9 L780.8 419.9 L782.8 422 L784.6 424.4 L786.4 426.9 L788 429.5 L789.4 432.1 L790.7 434.9 L791.8 437.6 L792.7 440.4 L793.4 443.2 L794 445.9 L794.3 448.5 L794.4 451.1 L794.3 453.5 L794 455.8 L793.4 457.9 L792.7 459.8 L791.8 461.5 L790.7 463 L789.4 464.2 L788 465.2 L779.3 470.2 L777.7 471 L776 471.5 L774.1 471.7 L772.2 471.6 L770.2 471.3 L768.1 470.7 L765.9 469.8 L763.8 468.7 L761.7 467.3 L759.5 465.8 L757.4 463.9 L755.4 461.9 L753.5 459.8 L751.6 457.4 L749.9 454.9 L748.3 452.3 L746.9 449.7 L745.6 446.9 L744.5 444.2 L743.5 441.4 L742.8 438.6 L742.3 435.9 L742 433.3 L741.9 430.7 L742 428.3 L742.3 426 L742.8 423.9 L743.5 422 L744.5 420.3 L745.6 418.8 L746.9 417.6 L748.3 416.6 Z"/><ellipse class="s" cx="763.8" cy="443.4" rx="31" ry="17.9" transform="rotate(-120 763.8 443.4)"/><ellipse class="n" cx="764.5" cy="443" rx="22" ry="12.7" transform="rotate(-120 764.5 443)"/><ellipse class="n" cx="766" cy="442" rx="19" ry="11" transform="rotate(-120 766 442)"/><path class="s" d="M696.8 405 L731 390 L733.7 393 L703 408.5 L698 408 Z"/><path class="n" d="M552 183 L590 204"/><path class="s" d="M552 190 L566 196 L553 199 Z"/><path class="s" d="M499 205 L499 258 L530 270 L551 262 L551 205 Z"/><path class="n" d="M555.4 210 C551 218 549 230 548.5 245 C549 252 551 256 552.3 260"/><path class="s" d="M517.1 235.6 L546 249.7 L529.6 268.4 Z"/><path class="n" d="M500 235.6 C503 239 508 239 516.4 233.3"/><path class="s" d="M478.2 277.6 L469.3 254.8 L478.2 242.2 L509.3 224.2 L527 234.4 L535.9 257.2 L527 269.8 L495.8 287.8 Z"/><path class="n" d="M495.8 252.4 L527 234.4"/><path class="n" d="M478.2 242.2 L509.3 224.2"/><path class="n" d="M469.3 254.8 L500.5 236.8"/><path class="n" d="M478.2 277.6 L509.3 259.6"/><path class="s" d="M504.7 275.2 L495.8 252.4 L478.2 242.2 L469.3 254.8 L478.2 277.6 L495.8 287.8 Z"/><path class="s" d="M472.8 244.8 L474 244.2 L475.4 243.9 L476.9 243.7 L478.5 243.7 L480.1 244 L481.8 244.5 L483.5 245.2 L485.3 246.1 L487 247.2 L488.7 248.5 L490.4 249.9 L492 251.5 L493.6 253.3 L495.1 255.2 L496.5 257.2 L497.8 259.3 L498.9 261.4 L500 263.6 L500.8 265.9 L501.6 268.1 L502.2 270.3 L502.6 272.5 L502.9 274.7 L502.9 276.7 L502.9 278.7 L502.6 280.5 L502.2 282.2 L501.6 283.7 L500.8 285.1 L500 286.3 L498.9 287.3 L497.8 288.2 L486.5 294.7 L485.2 295.3 L483.8 295.6 L482.3 295.8 L480.8 295.8 L479.1 295.5 L477.4 295 L475.7 294.3 L474 293.4 L472.3 292.3 L470.6 291 L468.9 289.6 L467.2 288 L465.7 286.2 L464.2 284.3 L462.8 282.3 L461.5 280.2 L460.3 278.1 L459.3 275.9 L458.4 273.6 L457.7 271.4 L457.1 269.2 L456.7 267 L456.4 264.8 L456.3 262.8 L456.4 260.8 L456.7 259 L457.1 257.3 L457.7 255.8 L458.4 254.4 L459.3 253.2 L460.3 252.2 L461.5 251.3 Z"/><ellipse class="s" cx="474" cy="273" rx="25" ry="14.4" transform="rotate(-120 474 273)"/><ellipse class="n" cx="477" cy="271.5" rx="25" ry="14.4" transform="rotate(-120 477 271.5)"/><ellipse class="n" cx="480.5" cy="269.5" rx="25" ry="14.4" transform="rotate(-120 480.5 269.5)"/><path class="s" d="M459.4 256.8 L460.5 256.3 L461.7 256 L462.9 255.8 L464.2 255.9 L465.6 256.1 L467 256.5 L468.5 257.1 L469.9 257.9 L471.4 258.8 L472.8 259.9 L474.2 261.1 L475.6 262.4 L476.9 263.9 L478.2 265.5 L479.3 267.2 L480.4 268.9 L481.4 270.7 L482.3 272.6 L483 274.5 L483.6 276.4 L484.1 278.2 L484.5 280.1 L484.7 281.9 L484.8 283.6 L484.7 285.2 L484.5 286.8 L484.1 288.2 L483.6 289.5 L483 290.6 L482.3 291.7 L481.4 292.5 L480.4 293.2 L473.5 297.2 L472.4 297.7 L471.2 298 L470 298.2 L468.7 298.1 L467.3 297.9 L465.9 297.5 L464.5 296.9 L463 296.1 L461.5 295.2 L460.1 294.1 L458.7 292.9 L457.3 291.6 L456 290.1 L454.8 288.5 L453.6 286.8 L452.5 285.1 L451.5 283.3 L450.7 281.4 L449.9 279.5 L449.3 277.6 L448.8 275.8 L448.4 273.9 L448.2 272.1 L448.2 270.4 L448.2 268.8 L448.4 267.2 L448.8 265.8 L449.3 264.5 L449.9 263.4 L450.7 262.3 L451.5 261.5 L452.5 260.8 Z"/><ellipse class="s" cx="463" cy="279" rx="21" ry="12.1" transform="rotate(-120 463 279)"/><path class="s" d="M462 261.3 L462.8 261 L463.7 260.7 L464.6 260.6 L465.6 260.6 L466.7 260.8 L467.7 261.1 L468.8 261.6 L470 262.1 L471.1 262.8 L472.2 263.7 L473.2 264.6 L474.3 265.6 L475.3 266.8 L476.2 268 L477.1 269.2 L478 270.6 L478.7 272 L479.4 273.4 L479.9 274.8 L480.4 276.2 L480.8 277.7 L481 279.1 L481.2 280.4 L481.3 281.7 L481.2 283 L481 284.2 L480.8 285.2 L480.4 286.2 L479.9 287.1 L479.4 287.9 L478.7 288.5 L478 289.1 L458.9 300.1 L458.1 300.4 L457.2 300.7 L456.2 300.8 L455.2 300.8 L454.2 300.6 L453.1 300.3 L452 299.8 L450.9 299.3 L449.8 298.6 L448.7 297.7 L447.6 296.8 L446.6 295.8 L445.6 294.6 L444.6 293.4 L443.7 292.2 L442.9 290.8 L442.2 289.4 L441.5 288 L440.9 286.6 L440.4 285.2 L440.1 283.7 L439.8 282.3 L439.6 281 L439.6 279.7 L439.6 278.4 L439.8 277.2 L440.1 276.2 L440.4 275.2 L440.9 274.3 L441.5 273.5 L442.2 272.9 L442.9 272.3 Z"/><ellipse class="s" cx="450.9" cy="286.2" rx="16" ry="9.2" transform="rotate(-120 450.9 286.2)"/><ellipse class="n" cx="451.2" cy="286" rx="12.8" ry="7.4" transform="rotate(-120 451.2 286)"/><path class="h" d="M488 240 L501 218.5"/><path class="h" d="M489.9 240.9 L502.9 219.4"/><path class="h" d="M491.8 241.8 L504.8 220.3"/><path class="h" d="M493.7 242.7 L506.7 221.2"/><path class="s" d="M496.4 186 L496.4 206.5 C503 214 512 216 518 216 C530 216 545 212 551.5 205 L552.2 184 L546 181 L515.9 193.2 Z"/><path class="n" d="M496.4 186.3 L515.9 193.2 L544 189.5 L552.2 183.8"/><path class="n" d="M515.9 193.2 L517.5 215.5"/><path class="n" d="M544 189.5 L546.5 211.5"/><path class="n" d="M498.5 209.5 C505 218 515 219 520 219 C532 219 545 215 550.5 208"/><path class="s" d="M486 162 L494.6 183 C505 192 540 192 552 183 L559 164 Z"/><path class="n" d="M490 172 C500 182 512 184 522 184 C534 184 548 180 556 172"/><path class="n" d="M493 178 C503 187 512 188 522 188 C534 188 546 185 553 178"/><path class="s" d="M476.3 26 C478 18 485 10 492 8 C505 2 530 0 540 3 C548 5 554 10 555.5 19 L559.5 29 L562.8 150 C562 157 560 163 558.7 166.4 C545 180 500 180 488 165 C485 160 483 155 482.3 150 Z"/><path class="n" d="M480.7 41.5 L484.8 166.3"/><path class="n" d="M483.1 42.8 L487.3 167.3"/><path class="n" d="M489.2 45.6 L493.3 169.7"/><path class="n" d="M492.9 47.1 L497 170.9"/><path class="n" d="M497.7 48.7 L501.8 172.3"/><path class="n" d="M500.2 49.4 L504.2 172.8"/><path class="n" d="M504.9 50.5 L509 173.8"/><path class="n" d="M509.7 51.3 L513.8 174.5"/><path class="n" d="M514.5 51.8 L518.6 174.9"/><path class="n" d="M518.1 52 L522.2 175"/><path class="n" d="M524.1 51.8 L528.2 174.9"/><path class="n" d="M526.5 51.6 L530.6 174.7"/><path class="n" d="M530.1 51.2 L534.2 174.3"/><path class="n" d="M534.9 50.3 L539 173.6"/><path class="n" d="M540.7 48.7 L544.8 172.3"/><path class="n" d="M544.2 43.5 L548.4 171.3"/><path class="n" d="M548.9 41.6 L553.1 169.7"/><path class="n" d="M552.5 40 L556.7 168.3"/><path class="n" d="M556 38.2 L560.2 166.8"/><path class="n" d="M559 36.5 L563.3 165.4"/><path class="n" d="M480.7 42 L485.7 44.5 L490.7 42.6"/><path class="n" d="M501 48 L505 52.7 L513.5 52.7 L516.5 47"/><path class="n" d="M531.5 46 L535 48.9 L542.8 46"/><path class="n" d="M547.8 34 L552.8 32.6 L555 28"/><path class="n" d="M476.3 26 L481 24 L486 30 L482 42"/><ellipse class="s" cx="517" cy="22.3" rx="33.2" ry="20.4"/><ellipse class="n" cx="516.8" cy="22.2" rx="31.5" ry="19"/><ellipse class="n" cx="516.2" cy="22" rx="27.6" ry="15.7"/><path class="d" d="M752 333 L1043 502.5"/>
<path class="d" style="stroke-dasharray:none" d="M478 379 L494 368.5 M330 477 L350 464 M279 398 L296 387 M441 294 L452 287"/>
<circle class="c" cx="123.4" cy="211.2" r="15"/><path d="M125 218.2 L125 206 L123.6 206 C123 208 121.5 209 120.3 209.3 L120.3 210.8 C121.9 210.4 123 209.6 123.6 208.8 L123.6 218.2 Z" fill="#2a2a2a" stroke="#2a2a2a" stroke-width="0.35"/>
<circle class="c" cx="163.3" cy="211.2" r="15"/><text class="t" x="163.6" y="218.2">2</text>
<circle class="c" cx="328.8" cy="656" r="14.8"/><text class="t" x="329" y="662.9">3</text>
<circle class="c" cx="368.7" cy="656" r="14.8"/><text class="t" x="368.7" y="662.9">4</text>
<circle class="c" cx="1260" cy="400.6" r="14.9"/><text class="t" x="1260.3" y="407.7">6</text>
<circle class="c" cx="1260" cy="440.6" r="14.9"/><text class="t" x="1260.3" y="447.5">5</text>
</svg>
</body></html>
